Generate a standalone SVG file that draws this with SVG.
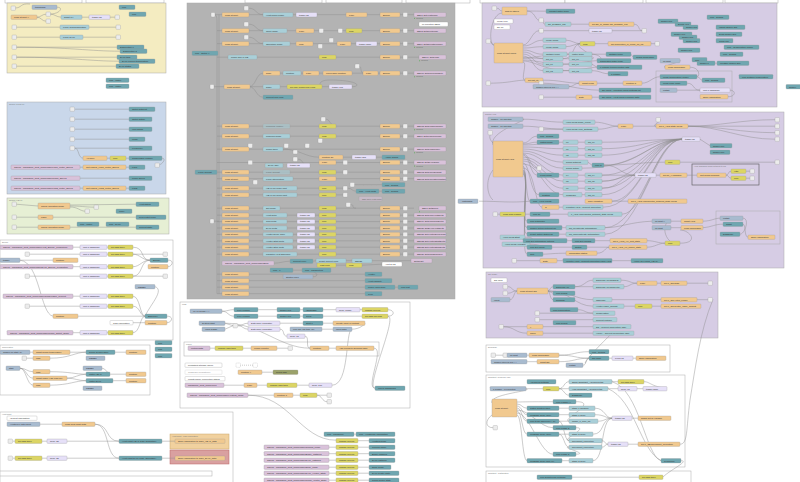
<svg xmlns="http://www.w3.org/2000/svg" width="800" height="482" viewBox="0 0 800 482">
<style>
text{font-family:"Liberation Sans",Arial,sans-serif;font-size:2.3px;fill:#333}
.fn rect,.sw rect,.ui rect,.lk rect,.tr rect,.mq rect,.in rect,.cm rect,.sq rect,.dg rect{stroke:#999;stroke-width:.3;rx:.8px}
.fn rect{fill:#f1c98f}.sw rect{fill:#dcd564}.ui rect{fill:#a9cfd8}.lk rect{fill:#6fa6b0}
.tr rect{fill:#e6e0f8}.mq rect{fill:#d9c2da}.in rect{fill:#a8bbcf}.cm rect{fill:#fff}
.sq rect{fill:#ececec}.dg rect{fill:#9ba26a}.fd{opacity:.55}
.grp rect{stroke:#aaa;stroke-width:.5}
.gt{font-size:2px;fill:#777}
.st{font-size:1.5px;fill:#666}
#wires path{fill:none;stroke:#8c8c8c;stroke-width:.45}
</style>
<rect width="800" height="482" fill="#fff"/>
<g id="groups" class="grp">
<rect x="5" y="-2" width="77" height="5" fill="#fff"/><rect x="86" y="-2" width="78" height="5" fill="#fff"/>
<rect x="245" y="-2" width="77" height="5" fill="#fff"/><rect x="326" y="-2" width="76" height="5" fill="#fff"/>
<rect x="406" y="-2" width="64" height="5" fill="#fff"/><rect x="480" y="-2" width="85" height="5" fill="#fff"/>
<rect x="565" y="-2" width="78" height="5" fill="#fff"/><rect x="646" y="-2" width="77" height="5" fill="#fff"/>
<rect x="725" y="-2" width="53" height="5" fill="#fff"/>
<rect x="7" y="3" width="159" height="70" fill="#f4ecc1"/>
<rect x="7" y="102" width="159" height="92" fill="#c9d7ea"/><text class="gt" x="9" y="105">Source (P1 DHT)</text>
<rect x="7" y="198" width="162" height="36" fill="#e6efd4"/><text class="gt" x="9" y="201">Source (HEAT)</text>
<rect x="187" y="3" width="268" height="296" fill="#b3b3b3"/>
<rect x="482" y="3" width="295" height="104" fill="#d6cce4"/>
<rect x="483" y="112" width="301" height="156" fill="#d6cce4"/><text class="gt" x="485" y="115">Control HPC</text>
<rect x="486" y="272" width="232" height="66" fill="#d6cce4"/><text class="gt" x="488" y="275">SG Ready</text>
<rect x="486" y="345" width="184" height="27" fill="#fff"/><text class="gt" x="488" y="348">Exchange</text>
<rect x="486" y="375" width="199" height="92" fill="#fff"/><text class="gt" x="488" y="378">SmartSet Advanced Vars</text>
<rect x="486" y="471" width="205" height="14" fill="#fff"/><text class="gt" x="488" y="474">SmartSet - SoftRestore</text>
<rect x="0" y="240" width="173" height="100" fill="#fff"/><text class="gt" x="2" y="243">Energy</text>
<rect x="0" y="345" width="150" height="50" fill="#fff"/><text class="gt" x="2" y="348">Temperature</text>
<rect x="0" y="412" width="233" height="72" fill="#fff"/><text class="gt" x="2" y="415">Heat chart</text>
<rect x="180" y="302" width="230" height="106" fill="#fff"/><text class="gt" x="182" y="305">Logs</text>
<rect x="184" y="342" width="195" height="14" fill="none"/><text class="gt" x="186" y="345">MQTT</text>
<rect x="656" y="71" width="76" height="31" fill="none"/>
<rect x="692" y="164" width="67" height="21" fill="none" style="stroke:#555;stroke-width:.6"/><text class="gt" x="694" y="167">HPC Changed Room setpoint to log</text>
<rect x="716" y="211" width="64" height="33" fill="none"/>
<rect x="170" y="434" width="59" height="15" fill="#f1d19e" style="stroke:#c9a96e"/><text class="gt" x="172" y="437">Heat chart - COP information</text>
<rect x="170" y="450" width="59" height="14" fill="#d9a0a0" style="stroke:#b66"/>
<rect x="0" y="471" width="212" height="5" fill="#fff"/>
</g>
<g id="wires">
<path d="M37,17.2 C41,17.2 42,14.2 46,14.2 M37,17.2 C41,17.2 42,21.2 46,21.2 M50,14.2 C55,14 56,17 61,17.2 M82,17.2 L89,17.2 M110,17.2 L115,17.2 M57,7.2 C64,7.2 60,14 50,14 M15,8 C22,8 20,3 30,4"/>
<path d="M16,27.2 L60,27.2 M89,27.2 L116,27.2 M16,37.2 L60,37.2 M83,37.2 L116,37.2 M16,47.2 L117,47.2 M16,47.2 C70,47.2 90,51.2 120,51.2 M16,57.2 L117,57.2 M16,57.2 C70,57.2 90,61.2 119,61.2 M16,66.2 L116,66.2"/>
<path d="M75,109.2 L129,109.2 M75,119.2 L129,119.2 M75,129.2 L129,129.2 M75,139.2 L129,139.2 M75,148.2 L129,148.2 M75,148.2 C79,148.2 78,158 83,158.2 M107,158.2 L110,158.2 M126,158.2 L129,158.2 M162,158.2 C167,158.2 162,165 158,165.2 M80,167.2 L83,167.2 M126,167.2 L129,167.2 M80,178.2 L129,178.2 M80,188.2 L83,188.2 M126,188.2 L129,188.2"/>
<path d="M16,204.2 L38,206 M70,205 L136,204.2 M70,206 C80,206 85,207 94,207.2 M70,207 C78,207 80,211 85,211.2 M16,217.2 L38,217.2 M53,217.2 L136,217.2 M16,227.2 L38,227.2 M70,227.2 L136,227.2"/>
<path d="M214,14.7 C217,14.7 217,18 217,24 L217,293.7 M219,14.7 L219,293.7 M214,221.2 L219,221.2 M214,14.7 L414,14.7 M249,8.2 C256,8.2 256,14.7 263,14.7 M217,30.7 L414,30.7 M249,24.2 C256,24.2 256,30.7 263,30.7 M217,43.7 L414,43.7 M249,37.2 C256,37.2 256,43.7 263,43.7 M217,57.2 L419,57.2"/>
<path d="M214,86.7 L352,86.7 M249,86.7 C256,86.7 256,73.2 263,73.2 M249,86.7 C256,86.7 256,97.2 263,97.2 M280,73.2 L414,73.2 M359,66.2 C362,66.2 360,73 363,73.2 M352,86.7 C362,86.7 358,80 330,80 C320,80 318,84 322,86.7"/>
<path d="M217,126.2 L414,126.2 M326,119.2 C330,119.2 330,126 336,126.2 M217,136.2 L414,136.2 M217,149.2 L414,149.2 M283,149.2 C300,149.2 305,157.2 319,157.2 M343,157.2 L352,157.2 M376,157.2 L382,157.2 M217,162.5 L414,162.5 M298,159.2 C304,159.2 300,165 310,165.5 M217,172.2 L414,172.2 M217,178.7 L414,178.7 M354,184.7 C360,184.7 365,184.7 382,184.7"/>
<path d="M217,188.2 L348,188.2 M348,188.2 C352,188.2 352,191.2 356,191.2 M379,191.2 L382,191.2 M217,194.9 L348,194.9 M217,208.2 L414,208.2 M350,204.7 C356,204.7 350,208 356,208.2 M217,215.2 L414,215.2 M217,221.6 L414,221.6 M217,228 L414,228 M217,234.4 L414,234.4 M217,240.8 L414,240.8 M217,247.2 L414,247.2 M217,254.2 L414,254.2"/>
<path d="M274,263.2 C280,263.2 284,261.2 290,261.2 M313,261.2 L316,260.7 M346,260.7 L352,260.7 M372,260.7 L411,260.7 M336,265.2 L346,265.2 M362,265.2 L382,264.2 M293,270.2 L302,270.2 M313,276.7 C320,276.7 318,270 302,270.2 M217,274.2 L365,274.2 M217,280.7 L365,280.7 M217,287.2 L365,287.2 M395,287.2 L398,287.2 M217,293.7 L365,293.7"/>
<path d="M497,8.2 C500,8.2 499,11 502,11 M527,11 C535,11 538,11.2 546,11.2 M527,11 C535,11 535,20 539,20.2 M543,20.2 C545,20.2 542,24.2 545,24.2 M571,24.2 L589,24.2 M634,24.2 C640,24.2 638,30.7 642,30.7 M612,30.7 L642,30.7 M543,30.7 L589,30.7 M490,41.2 C492,41.2 491,45 494,45"/>
<path d="M523,46 C533,46 533,40.2 543,40.2 M523,48 C533,48 533,46.7 543,46.7 M523,50 C533,50 533,54.2 543,54.2 M523,52 C533,52 533,58.7 543,58.7 M523,54 C533,54 533,64.2 543,64.2 M523,56 C533,56 533,70.7 543,70.7 M523,58 C535,58 545,54 569,54.2 M523,58 C535,58 545,58.7 569,58.7 M523,60 C535,60 545,64.2 569,64.2 M523,61 C535,61 545,70.7 569,70.7 M523,45 C530,45 532,30.7 539,30.7 M523,62 C528,62 520,80.2 525,80.2 M494,45 C488,45 490,14 502,13"/>
<path d="M566,40.2 C572,40.2 575,43.7 580,43.7 M566,46.7 C572,46.7 575,43.7 580,43.7 M595,43.7 L608,43.7 M651,43.7 L655,43.7 M563,58.7 C575,58.7 572,44 580,43.7 M592,58.7 C600,58.7 570,44 580,43.7 M567,54.2 L606,54.2 M592,54.2 C600,54.2 605,60.7 597,60.7 M592,64.2 L597,67.2 M592,70.7 C600,70.7 602,73.7 608,73.7 M631,54.2 L633,57.2 M563,64.2 C575,64.2 590,60.7 597,60.7 M563,70.7 C580,70.7 590,67.2 597,67.2"/>
<path d="M543,80.2 C560,80 565,83 579,83.2 M569,86.7 C573,86.7 575,83.2 579,83.2 M597,83.2 L623,83.2 M642,83.2 C650,83 652,77 660,76.7 M490,83.2 C510,83 515,80.2 525,80.2 M543,97.2 L576,97.2 M592,97.2 L599,97.2 M543,83.2 C560,83.2 580,90 599,90.2 M680,60.7 C684,60.7 660,67 665,67.2 M690,67.2 C700,67.2 700,76.7 697,76.7 M697,76.7 C700,76.7 700,80.2 702,80.2 M687,83.2 C695,83.2 692,90 700,90.2 M677,90.2 L700,90.2 M730,90.2 C736,90.2 736,96.7 728,96.7 M715,63.2 L717,63.2"/>
<path d="M523,119.2 C540,119.2 545,122 563,122.2 M523,126.2 C540,126.2 545,129 563,129.2 M523,119.2 C530,119.2 488,132 493,145 M541,129.2 L563,129.2 M595,122.2 C605,122.2 610,126.2 618,126.2 M598,129.2 C608,129.2 610,126.2 618,126.2 M633,126.2 L656,126.2 M660,119.7 C664,119.7 650,126 656,126.2 M688,126.2 C720,126.2 740,119.7 775,119.7 M688,126.2 L775,126.2 M688,126.2 C720,126.2 740,132.7 775,132.7 M688,126.2 C720,126.2 740,139.2 775,139.2 M492,132.7 C488,136 490,140 493,143"/>
<path d="M523,143 C530,143 530,136.2 537,136.2 M523,144 C530,144 530,142.2 537,142.2 M523,145 C540,145 545,142.2 563,142.2 M523,147 C540,147 545,148.7 563,148.7 M523,149 C540,149 545,155.2 563,155.2 M523,151 C540,151 545,162.2 563,162.2 M523,153 C540,153 545,168.2 563,168.2 M523,154 C530,154 530,168.2 537,168.2 M523,155 C530,155 530,175.2 537,175.2 M523,157 C540,157 545,175.2 563,175.2 M523,159 C540,159 545,181.2 563,181.2 M523,161 C540,161 545,188.2 563,188.2 M523,163 C530,163 530,194.7 539,194.7 M523,164 C540,164 545,194.7 563,194.7 M523,166 C526,166 526,201.2 530,201.2 M523,168 C535,168 535,207.2 542,207.2 M523,170 C530,170 520,221.2 527,221.2 M523,171 C530,171 520,227.7 527,227.7 M523,172 C530,172 520,234.2 527,234.2 M523,173 C530,173 520,247.2 527,247.2 M523,174 C530,174 520,254.2 527,254.2 M493,170 C485,180 487,195 493,200"/>
<path d="M578,142.2 L585,142.2 M578,148.7 L585,148.7 M578,155.2 L585,155.2 M578,175.2 L585,175.2 M578,181.2 L585,181.2 M578,188.2 L585,188.2 M582,194.7 L585,194.7 M588,162.2 L592,165.2 M602,142.2 C640,142.2 650,139.2 682,139.2 M602,148.7 C640,148.7 650,139.2 682,139.2 M602,155.2 C640,155.2 650,139.2 682,139.2 M604,165.2 C640,165 650,139.2 682,139.2 M582,168.2 C640,168.2 650,139.2 682,139.2 M602,175.2 C640,175.2 650,139.2 682,139.2 M602,181.2 C640,181.2 650,139.2 682,139.2 M602,188.2 C640,188.2 650,139.2 682,139.2 M602,194.7 C640,194.7 650,139.2 682,139.2 M612,201.2 C640,201.2 650,139.2 682,139.2 M603,207.2 C640,207.2 650,139.2 682,139.2 M622,214.2 C645,214.2 655,139.2 682,139.2 M605,227.7 C640,227.7 655,139.2 682,139.2 M605,234.2 C640,234.2 655,139.2 682,139.2"/>
<path d="M602,175.2 L635,175.2 M602,181.2 C620,181 620,175.2 635,175.2 M604,165.2 C620,165 620,175 635,175.2 M602,188.2 C620,188.2 620,175.2 635,175.2 M656,175.2 L660,175.2 M687,175.2 L697,175.2 M726,175.2 C729,175 728,171 731,171.2 M726,175.2 C729,175 728,178 731,178.2 M746,171.2 L750,171.2 M746,178.2 L750,178.2 M680,162.2 L775,162.2 M604,165.2 C630,165 640,162.2 665,162.2 M612,201.2 L628,201.2 M700,139.2 L710,145.7"/>
<path d="M497,214.2 L500,214.2 M525,214.2 L530,214.2 M559,207.2 L563,207.2 M550,214.2 L568,214.2 M562,227.7 L566,227.7 M559,234.2 L566,234.2 M525,237.2 C535,237.2 535,240.7 523,240.7 M567,240.7 L572,240.7 M595,240.7 L610,240.7 M587,247.2 L609,247.2 M647,240.7 C655,240.7 658,243.2 665,243.2 M647,247.2 C655,247.2 658,243.2 665,243.2 M680,243.2 C700,243.2 690,230 680,230 M552,247.2 L572,247.2 M543,254.2 C550,254 555,253.2 566,253.2 M597,253.2 C605,253.2 605,247.2 609,247.2 M530,244.2 C540,244.2 540,247 552,247.2"/>
<path d="M516,260.7 L540,260.7 M557,260.7 L563,260.7 M612,260.7 L631,260.7 M605,227.7 C620,227.7 630,222 652,221.2 M671,221.2 L681,221.2 M671,227.7 L681,227.7 M703,221.2 C712,221 715,218 720,218.2 M703,227.7 C712,227 715,224 723,224.2 M743,224.2 C746,224 744,237 748,237.2 M743,218.2 C750,218.2 745,234 740,234.2 M479,201.2 C500,201.2 510,203 530,201.2 M670,220 C660,225 665,245 680,245"/>
<path d="M508,286.7 C512,286.7 512,291 517,291 M508,293.2 C512,293.2 512,291 517,291 M510,299.7 C514,299.7 514,291 517,291 M548,291 C550,291 550,286.7 553,286.7 M548,291 L553,293.2 M548,291 C550,291 550,299.7 553,299.7 M575,286.7 C585,286.7 585,280.2 593,280.2 M575,286.7 L593,286.7 M621,280.2 C630,280.2 630,283.2 637,283.2 M624,286.7 C630,286.7 630,283.2 637,283.2 M657,283.2 L661,283.2 M687,283.2 L708,283.2 M548,291 C570,291 575,299.7 593,299.7 M548,291 C570,291 575,306.2 593,306.2 M612,299.7 L661,299.7 M624,306.2 L635,306.2 M652,306.2 L661,306.2 M697,299.7 L708,299.7 M539,313.2 L593,313.2 M539,319.7 L593,319.7 M503,326.7 L527,326.7 M543,326.7 L593,326.7 M503,326.7 C515,326.7 515,333.2 527,333.2 M543,333.2 L593,333.2 M578,309.7 C585,309.7 585,313.2 593,313.2"/>
<path d="M495,355.2 L503,355.2 M527,355.2 L529,355.2 M559,355.2 C575,355.2 575,358.2 589,358.2 M527,361.7 L537,361.7 M559,361.7 C575,361.7 575,358.2 589,358.2 M583,365.2 C587,365.2 585,358.2 589,358.2 M609,358.2 L612,358.2 M633,358.2 L636,358.2 M559,355.2 C575,355 575,351.7 589,351.7 M612,333.2 C600,345 590,355 585,363"/>
<path d="M526,388.7 L543,388.7 M559,388.7 C564,388.7 564,381.7 569,381.7 M559,388.7 L569,388.7 M559,388.7 C564,388.7 564,395.2 569,395.2 M612,381.7 L618,381.7 M608,388.7 L618,388.7 M637,388.7 L643,388.7 M644,381.7 C650,381.7 650,386 667,388.7 M526,388.7 C535,391 488,394 492,403"/>
<path d="M517,402 C522,402 522,401.7 553,401.7 M517,404 C522,404 522,408.2 527,408.2 M517,406 C522,406 522,414.7 527,414.7 M517,408 C522,408 522,421.2 527,421.2 M517,410 C530,410 540,427.7 553,427.7 M517,411 C522,411 522,434.2 527,434.2 M517,413 C530,413 540,454.2 553,454.2 M517,415 C522,415 522,460.7 527,460.7 M493,427.7 C485,427.7 485,420 492,415 M576,401.7 C600,401.7 560,420 569,421.2 M576,427.7 C590,427.7 560,440 569,440.7 M576,454.2 C590,454 560,447 569,447.2"/>
<path d="M559,408.2 L569,408.2 M559,414.7 L569,414.7 M559,421.2 L569,421.2 M559,434.2 L569,434.2 M562,460.7 L569,460.7 M559,421.2 C564,421.2 564,440.7 569,440.7 M559,434.2 C564,434 564,447 569,447.2 M595,408.2 C605,408.2 605,418.2 612,418.2 M595,414.7 C605,414.7 605,418.2 612,418.2 M598,421.2 C605,421.2 605,418.2 612,418.2 M593,434.2 C605,434 600,420 612,418.2 M593,460.7 C605,460 600,420 612,418.2 M632,418.2 L638,418.2 M602,440.7 C605,440.7 605,444.2 608,444.2 M602,447.2 C605,447.2 605,444.2 608,444.2 M628,444.2 L638,444.2"/>
<path d="M612,381.7 C640,390 645,455 661,460.7 M608,388.7 C635,400 640,450 661,460.7 M681,460.7 C690,460.7 670,470 663,477 M713,299.5 C700,330 695,370 690,400 C686,430 688,444 680,444.2 M572,477.2 C600,477.2 620,477.2 639,477.2"/>
<path d="M73,247.2 L108,247.2 M29,254.2 L108,254.2 M73,266.7 L108,266.7 M29,276.2 L108,276.2 M73,296.2 L108,296.2 M29,306.2 L108,306.2 M73,332.7 L108,332.7 M133,247.2 C145,247.2 140,260.2 150,260.2 M133,254.2 C140,254.2 142,260.2 150,260.2 M133,266.7 C140,266.7 142,260.2 150,260.2 M133,276.2 C143,276.2 140,260.2 150,260.2 M133,254.2 L163,254.2 M133,276.2 L163,276.2 M20,260.2 L53,260.2 M20,260.2 C40,262 40,314 53,316.2 M168,260.2 C175,260 172,266.7 168,266.7"/>
<path d="M133,296.2 C140,296.2 140,316.2 145,316.2 M133,306.2 C140,306.2 140,316.2 145,316.2 M133,332.7 C140,332.7 140,316.2 145,316.2 M78,316.2 L145,316.2 M155,286.7 C165,290 150,305 145,316.2 M167,316.2 C174,316 172,322.7 167,322.7 M133,322.7 L145,322.7"/>
<path d="M30,352.2 L33,352.2 M70,352.2 L86,352.2 M50,358.2 C70,358.2 75,352.2 86,352.2 M26,358.2 L33,358.2 M115,352.2 L126,352.2 M20,368.2 C26,368.2 27,371.7 33,371.7 M20,368.2 C26,368.2 27,378.2 33,378.2 M20,368.2 C26,368.2 27,385.2 33,385.2 M50,371.7 C70,371.7 75,374.2 86,374.2 M67,378.2 C75,378.2 78,374.2 86,374.2 M67,378.2 C75,378.2 78,380.7 86,380.7 M50,385.2 C70,385 75,380.7 86,380.7 M110,374.2 L126,374.2 M113,380.7 L126,380.7 M102,368.2 C106,368.2 106,373 110,373"/>
<path d="M40,424.2 L62,424.2 M95,424.2 C110,424.2 105,441.2 119,441.2 M95,424.2 C110,424.2 105,458.2 119,458.2 M13,441.2 L15,441.2 M42,441.2 L47,441.2 M67,441.2 L119,441.2 M162,441.2 L175,441.2 M13,458.2 L15,458.2 M42,458.2 L47,458.2 M67,458.2 L119,458.2 M162,458.2 L175,458.2"/>
<path d="M222,311.2 C228,311.2 228,309.7 234,309.7 M222,311.2 C228,311.2 228,316.2 234,316.2 M258,309.7 L277,309.7 M258,316.2 L277,316.2 M300,309.7 L303,309.7 M300,316.2 L303,316.2 M323,309.7 L336,309.7 M360,309.7 L362,309.7 M323,316.2 L362,316.2 M388,309.7 C395,310 395,316 388,316.2 M225,323.2 L233,325.7 M225,329.2 L233,325.7 M238,325.7 C243,325.7 243,323.2 248,323.2 M238,325.7 C243,325.7 243,329.2 248,329.2 M280,323.2 L303,323.2 M323,323.2 L333,323.2 M280,329.2 C285,329.2 282,336.2 287,336.2 M322,329.2 L333,329.2 M352,329.2 C360,329.2 365,324 365,323.2"/>
<path d="M225,323.2 C260,323.2 280,348.2 310,348.2 M210,348.2 L215,348.2 M243,348.2 L251,348.2 M277,348.2 L288,348.2 M329,348.2 L336,348.2 M305,336.2 C310,336.2 305,348.2 310,348.2 M388,316.2 C398,316.2 365,388.2 375,388.2 M374,348.2 C385,348.2 365,388 375,388.2 M262,372.2 L273,372.2 M224,385.2 L244,385.2 M257,385.2 L267,385.2 M297,385.2 L309,385.2 M332,385.2 C350,385.2 345,330 352,329.2 M248,395.2 L274,395.2 M293,395.2 L300,395.2 M317,395.2 L327,395.2 M317,395.2 C322,395.2 322,401.7 327,401.7 M248,395.2 C290,395.2 300,440.2 336,440.2"/>
<path d="M354,434.2 L356,434.2 M358,440.7 L369,440.7 M329,447.2 L369,447.2 M329,453.7 L369,453.7 M329,460.2 L369,460.2 M329,467.2 L369,467.2 M329,473.2 L369,473.2 M329,480.2 L369,480.2"/>
<path d="M240,365.2 L253,365.2" style="stroke-dasharray:1 1"/>
</g>
<g id="y1" class="sq"><rect x="11" y="6" width="4.5" height="4.4"/></g>
<g id="y2" class="in"><rect x="32" y="5" width="25" height="4.4"/><text x="35" y="8">timestamp</text></g>
<g id="y3" class="lk"><rect x="119" y="5" width="16" height="4.4"/><text x="122" y="8">Link</text></g>
<g id="y4" class="lk"><rect x="129" y="12" width="17" height="4.4"/><text x="132" y="15">Link</text></g>
<g id="y5" class="fn"><rect x="11" y="15" width="26" height="4.4"/><text x="14" y="18">Load at boot X</text></g>
<g id="y6" class="sq"><rect x="46" y="12" width="4.5" height="4.4"/></g>
<g id="y7" class="sq"><rect x="46" y="19" width="4.5" height="4.4"/></g>
<g id="y8" class="ui"><rect x="61" y="15" width="21" height="4.4"/><text x="64" y="18">smart pH</text></g>
<g id="y9" class="tr"><rect x="89" y="15" width="21" height="4.4"/><text x="92" y="18">trigger 5s</text></g>
<g id="y10" class="sq"><rect x="115" y="15" width="4.5" height="4.4"/></g>
<g id="y11" class="sq"><rect x="12" y="25" width="4.5" height="4.4"/></g>
<g id="y12" class="ui"><rect x="60" y="25" width="29" height="4.4"/><text x="63" y="28">Force dehumidification</text></g>
<g id="y13" class="sq"><rect x="116" y="25" width="4.5" height="4.4"/></g>
<g id="y14" class="sq"><rect x="12" y="35" width="4.5" height="4.4"/></g>
<g id="y15" class="ui"><rect x="60" y="35" width="23" height="4.4"/><text x="63" y="38">Force DHW</text></g>
<g id="y16" class="sq"><rect x="116" y="35" width="4.5" height="4.4"/></g>
<g id="y17" class="sq"><rect x="12" y="45" width="4.5" height="4.4"/></g>
<g id="y18" class="lk"><rect x="117" y="45" width="27" height="4.4"/><text x="120" y="48">Disinfection 1</text></g>
<g id="y19" class="lk"><rect x="120" y="49" width="27" height="4.4"/><text x="123" y="52">Disinfection 2</text></g>
<g id="y20" class="sq"><rect x="12" y="55" width="4.5" height="4.4"/></g>
<g id="y21" class="lk"><rect x="117" y="55" width="20" height="4.4"/><text x="120" y="58">DHW tank</text></g>
<g id="y22" class="lk"><rect x="119" y="59" width="36" height="4.4"/><text x="122" y="62">DHW current temperature</text></g>
<g id="y23" class="sq"><rect x="12" y="64" width="4.5" height="4.4"/></g>
<g id="y24" class="lk"><rect x="116" y="64" width="23" height="4.4"/><text x="119" y="67">DHW status</text></g>
<g id="y25" class="lk"><rect x="106" y="78" width="23" height="4.4"/><text x="109" y="81">Link - Water</text></g>
<g id="y26" class="lk"><rect x="106" y="84" width="23" height="4.4"/><text x="109" y="87">Link - Water</text></g>
<g id="b1" class="sq"><rect x="70" y="107" width="4.5" height="4.4"/></g>
<g id="b2" class="lk"><rect x="129" y="107" width="26" height="4.4"/><text x="132" y="110">Outlet setpoint</text></g>
<g id="b3" class="sq"><rect x="70" y="117" width="4.5" height="4.4"/></g>
<g id="b4" class="lk"><rect x="129" y="117" width="23" height="4.4"/><text x="132" y="120">Outlet actual</text></g>
<g id="b5" class="sq"><rect x="70" y="127" width="4.5" height="4.4"/></g>
<g id="b6" class="lk"><rect x="129" y="127" width="23" height="4.4"/><text x="132" y="130">Inlet actual</text></g>
<g id="b7" class="sq"><rect x="70" y="137" width="4.5" height="4.4"/></g>
<g id="b8" class="lk"><rect x="129" y="137" width="16" height="4.4"/><text x="132" y="140">Mode</text></g>
<g id="b9" class="sq"><rect x="70" y="146" width="4.5" height="4.4"/></g>
<g id="b10" class="lk"><rect x="129" y="146" width="23" height="4.4"/><text x="132" y="149">Frequency</text></g>
<g id="b11" class="fn"><rect x="83" y="156" width="24" height="4.4"/><text x="86" y="159">Anyfunc</text></g>
<g id="b12" class="sw"><rect x="110" y="156" width="16" height="4.4"/><text x="113" y="159">Max</text></g>
<g id="b13" class="lk"><rect x="129" y="156" width="33" height="4.4"/><text x="132" y="159">Compressor runtime</text></g>
<g id="b14" class="sq"><rect x="155" y="163" width="4.5" height="4.4"/></g>
<g id="b15" class="mq"><rect x="11" y="165" width="69" height="4.4"/><text x="14" y="168">TOPIC - panasonic_heat_pump/main/Fan1_Motor_Speed</text></g>
<g id="b16" class="fn"><rect x="83" y="165" width="43" height="4.4"/><text x="86" y="168">Get TOPIC_Fan1_Motor_Speed</text></g>
<g id="b17" class="lk"><rect x="129" y="165" width="16" height="4.4"/><text x="132" y="168">Fan1</text></g>
<g id="b18" class="mq"><rect x="11" y="176" width="69" height="4.4"/><text x="14" y="179">TOPIC - panasonic_heat_pump/main/Pump_Speed</text></g>
<g id="b19" class="lk"><rect x="129" y="176" width="23" height="4.4"/><text x="132" y="179">Pump speed</text></g>
<g id="b20" class="mq"><rect x="11" y="186" width="69" height="4.4"/><text x="14" y="189">TOPIC - panasonic_heat_pump/main/Fan2_Motor_Speed</text></g>
<g id="b21" class="fn"><rect x="83" y="186" width="43" height="4.4"/><text x="86" y="189">Get TOPIC_Fan2_Motor_Speed</text></g>
<g id="b22" class="lk"><rect x="129" y="186" width="16" height="4.4"/><text x="132" y="189">Fan2</text></g>
<g id="gr1" class="sq"><rect x="12" y="202" width="4.5" height="4.4"/></g>
<g id="gr2" class="fn"><rect x="38" y="203" width="32" height="6"/><text x="41" y="206.8">Check operation mode</text></g>
<g id="gr3" class="lk"><rect x="136" y="202" width="23" height="4.4"/><text x="139" y="205">Heat status</text></g>
<g id="gr4" class="sq"><rect x="94" y="205" width="4.5" height="4.4"/></g>
<g id="gr5" class="sq"><rect x="85" y="209" width="4.5" height="4.4"/></g>
<g id="gr6" class="lk"><rect x="116" y="209" width="16" height="4.4"/><text x="119" y="212">Linkx</text></g>
<g id="gr7" class="sq"><rect x="12" y="215" width="4.5" height="4.4"/></g>
<g id="gr8" class="fn"><rect x="38" y="215" width="15" height="4.4"/><text x="41" y="218">Label</text></g>
<g id="gr9" class="lk"><rect x="136" y="215" width="30" height="4.4"/><text x="139" y="218">Real outlet temp</text></g>
<g id="gr10" class="sq"><rect x="12" y="225" width="4.5" height="4.4"/></g>
<g id="gr11" class="fn"><rect x="38" y="225" width="32" height="4.4"/><text x="41" y="228">Check operation mode</text></g>
<g id="gr12" class="lk"><rect x="77" y="222" width="22" height="4.4"/><text x="80" y="225">Link - Water</text></g>
<g id="gr13" class="lk"><rect x="106" y="222" width="23" height="4.4"/><text x="109" y="225">Link - DHW</text></g>
<g id="gr14" class="lk"><rect x="136" y="225" width="23" height="4.4"/><text x="139" y="228">Current state</text></g>
<g id="k0" class="lk"><rect x="192" y="51" width="26" height="4.4"/><text x="195" y="54">Link - Setup X</text></g>
<g id="k1" class="sq"><rect x="211" y="12.5" width="4" height="4.4"/></g>
<g id="k2" class="fn"><rect x="222" y="12.5" width="27" height="4.4"/><text x="225" y="15.5">Load at boot</text></g>
<g id="k3" class="sq"><rect x="244" y="6" width="4.5" height="4.4"/></g>
<g id="k4" class="ui"><rect x="263" y="12.5" width="30" height="4.4"/><text x="266" y="15.5">Heat pump power</text></g>
<g id="k5" class="tr"><rect x="296" y="12.5" width="21" height="4.4"/><text x="299" y="15.5">trigger 5s</text></g>
<g id="k6" class="fn"><rect x="346" y="12.5" width="21" height="4.4"/><text x="349" y="15.5">Filter</text></g>
<g id="k7" class="fn"><rect x="380" y="12.5" width="20" height="4.4"/><text x="383" y="15.5">Block?</text></g>
<g id="k8" class="sq"><rect x="403" y="12.5" width="4.5" height="4.4"/></g>
<g id="k9" class="mq"><rect x="414" y="12.5" width="32" height="4.4"/><text x="417" y="15.5">SET1 SetHeatpump</text><rect x="414" y="17.8" width="1" height="1" style="fill:#5a5;stroke:none"/><text class="st" x="416" y="18.8">connected</text></g>
<g id="k10" class="sq"><rect x="244" y="22" width="4.5" height="4.4"/></g>
<g id="k11" class="fn"><rect x="222" y="28.5" width="27" height="4.4"/><text x="225" y="31.5">Load at boot</text></g>
<g id="k12" class="ui"><rect x="263" y="28.5" width="24" height="4.4"/><text x="266" y="31.5">Quiet mode</text></g>
<g id="k13" class="fn"><rect x="296" y="28.5" width="18" height="4.4"/><text x="299" y="31.5">Filter</text></g>
<g id="k14" class="sq"><rect x="319" y="28.5" width="4.5" height="4.4"/></g>
<g id="k15" class="sq"><rect x="338" y="28.5" width="4.5" height="4.4"/></g>
<g id="k16" class="sw"><rect x="346" y="28.5" width="16" height="4.4"/><text x="349" y="31.5">Map</text></g>
<g id="k17" class="fn"><rect x="380" y="28.5" width="20" height="4.4"/><text x="383" y="31.5">Block?</text></g>
<g id="k18" class="sq"><rect x="403" y="28.5" width="4.5" height="4.4"/></g>
<g id="k19" class="mq"><rect x="414" y="28.5" width="32" height="4.4"/><text x="417" y="31.5">SET3 SetQuietMode</text></g>
<g id="k20" class="cm"><rect x="419" y="22" width="29" height="4.4"/><text x="422" y="25">fix Function SET1</text></g>
<g id="k21" class="sq"><rect x="244" y="35" width="4.5" height="4.4"/></g>
<g id="k22" class="fn"><rect x="222" y="41.5" width="27" height="4.4"/><text x="225" y="44.5">Load at boot</text></g>
<g id="k23" class="ui"><rect x="263" y="41.5" width="27" height="4.4"/><text x="266" y="44.5">Operation mode</text></g>
<g id="k24" class="fn"><rect x="296" y="41.5" width="17" height="4.4"/><text x="299" y="44.5">Map</text></g>
<g id="k25" class="sq"><rect x="318" y="44" width="4.5" height="4.4"/></g>
<g id="k26" class="sq"><rect x="329" y="38" width="4.5" height="4.4"/></g>
<g id="k27" class="fn"><rect x="337" y="41.5" width="14" height="4.4"/><text x="340" y="44.5">Filter</text></g>
<g id="k28" class="tr"><rect x="356" y="41.5" width="21" height="4.4"/><text x="359" y="44.5">trigger 5min</text></g>
<g id="k29" class="fn"><rect x="380" y="41.5" width="20" height="4.4"/><text x="383" y="44.5">Block?</text></g>
<g id="k30" class="sq"><rect x="403" y="41.5" width="4.5" height="4.4"/></g>
<g id="k31" class="mq"><rect x="414" y="41.5" width="32" height="4.4"/><text x="417" y="44.5">SET9 SetOperationMode</text><rect x="414" y="46.8" width="1" height="1" style="fill:#5a5;stroke:none"/><text class="st" x="416" y="47.8">connected</text></g>
<g id="k32" class="ui"><rect x="228" y="55" width="29" height="4.4"/><text x="231" y="58">Pump Run TAPE</text></g>
<g id="k33" class="sw"><rect x="319" y="55" width="17" height="4.4"/><text x="322" y="58">Map</text></g>
<g id="k34" class="fn"><rect x="380" y="55" width="20" height="4.4"/><text x="383" y="58">Block?</text></g>
<g id="k35" class="sq"><rect x="403" y="55" width="4.5" height="4.4"/></g>
<g id="k36" class="mq"><rect x="419" y="55" width="27" height="4.4"/><text x="422" y="58">SET14 SetPump</text><rect x="419" y="60.3" width="1" height="1" style="fill:#5a5;stroke:none"/><text class="st" x="421" y="61.3">connected</text></g>
<g id="k37" class="sq"><rect x="355" y="64" width="4.5" height="4.4"/></g>
<g id="k38" class="fn"><rect x="263" y="71" width="17" height="4.4"/><text x="266" y="74">scale</text></g>
<g id="k39" class="ui"><rect x="283" y="71" width="18" height="4.4"/><text x="286" y="74">function</text></g>
<g id="k40" class="fn"><rect x="303" y="71" width="16" height="4.4"/><text x="306" y="74">Filter</text></g>
<g id="k41" class="fn"><rect x="323" y="71" width="29" height="4.4"/><text x="326" y="74">conversion function</text></g>
<g id="k42" class="fn"><rect x="363" y="71" width="15" height="4.4"/><text x="366" y="74">Filter</text></g>
<g id="k43" class="fn"><rect x="380" y="71" width="20" height="4.4"/><text x="383" y="74">Block?</text></g>
<g id="k44" class="sq"><rect x="403" y="71" width="4.5" height="4.4"/></g>
<g id="k45" class="mq"><rect x="414" y="71" width="32" height="4.4"/><text x="417" y="74">SET16 SetMaxPumpDuty</text><rect x="414" y="76.3" width="1" height="1" style="fill:#5a5;stroke:none"/><text class="st" x="416" y="77.3">connected</text></g>
<g id="k46" class="sq"><rect x="210" y="84.5" width="4" height="4.4"/></g>
<g id="k47" class="fn"><rect x="224" y="84.5" width="26" height="4.4"/><text x="227" y="87.5">Load at boot</text></g>
<g id="k48" class="ui"><rect x="263" y="84.5" width="17" height="4.4"/><text x="266" y="87.5">slider</text></g>
<g id="k49" class="sw"><rect x="287" y="84.5" width="35" height="4.4"/><text x="290" y="87.5">set Max Pump Max Flow</text></g>
<g id="k50" class="tr"><rect x="329" y="84.5" width="23" height="4.4"/><text x="332" y="87.5">trigger 10s</text></g>
<g id="k51" class="lk"><rect x="263" y="95" width="30" height="4.4"/><text x="266" y="98">Current max flow</text></g>
<g id="k52" class="sq"><rect x="321" y="117" width="4.5" height="4.4"/></g>
<g id="k53" class="fn"><rect x="222" y="124" width="27" height="4.4"/><text x="225" y="127">Load at boot</text></g>
<g id="k54" class="ui fd"><rect x="263" y="124" width="27" height="4.4"/><text x="266" y="127">Pumping (Water)</text></g>
<g id="k55" class="sw"><rect x="319" y="124" width="17" height="4.4"/><text x="322" y="127">Map</text></g>
<g id="k56" class="fn"><rect x="380" y="124" width="20" height="4.4"/><text x="383" y="127">Block?</text></g>
<g id="k57" class="sq"><rect x="403" y="124" width="4.5" height="4.4"/></g>
<g id="k58" class="mq"><rect x="414" y="124" width="32" height="4.4"/><text x="417" y="127">SET15 SetPumpingMode</text><rect x="414" y="129.3" width="1" height="1" style="fill:#5a5;stroke:none"/><text class="st" x="416" y="130.3">connected</text></g>
<g id="k59" class="fn"><rect x="222" y="134" width="27" height="4.4"/><text x="225" y="137">Load at boot</text></g>
<g id="k60" class="ui"><rect x="263" y="134" width="27" height="4.4"/><text x="266" y="137">Powerful mode</text></g>
<g id="k61" class="sw"><rect x="319" y="134" width="17" height="4.4"/><text x="322" y="137">Map</text></g>
<g id="k62" class="sq"><rect x="318" y="138.5" width="4.5" height="4.4"/></g>
<g id="k63" class="fn"><rect x="380" y="134" width="20" height="4.4"/><text x="383" y="137">Block?</text></g>
<g id="k64" class="sq"><rect x="403" y="134" width="4.5" height="4.4"/></g>
<g id="k65" class="mq"><rect x="414" y="134" width="32" height="4.4"/><text x="417" y="137">SET6 SetPowerfulMode</text></g>
<g id="k66" class="sq"><rect x="248" y="143.5" width="4.5" height="4.4"/></g>
<g id="k67" class="fn"><rect x="222" y="147" width="27" height="4.4"/><text x="225" y="150">Load at boot</text></g>
<g id="k68" class="ui"><rect x="263" y="147" width="20" height="4.4"/><text x="266" y="150">Pump timer</text></g>
<g id="k69" class="sq"><rect x="284" y="143.5" width="4.5" height="4.4"/></g>
<g id="k70" class="sq"><rect x="305" y="143.5" width="4.5" height="4.4"/></g>
<g id="k71" class="fn"><rect x="380" y="147" width="20" height="4.4"/><text x="383" y="150">Block?</text></g>
<g id="k72" class="sq"><rect x="403" y="147" width="4.5" height="4.4"/></g>
<g id="k73" class="mq"><rect x="414" y="147" width="32" height="4.4"/><text x="417" y="150">SET10 SetPumpTimer</text><rect x="414" y="152.3" width="1" height="1" style="fill:#5a5;stroke:none"/><text class="st" x="416" y="153.3">connected</text></g>
<g id="k74" class="sq"><rect x="293" y="150" width="4.5" height="4"/></g>
<g id="k75" class="fn"><rect x="319" y="155" width="24" height="4.4"/><text x="322" y="158">function 27</text></g>
<g id="k76" class="tr"><rect x="352" y="155" width="24" height="4.4"/><text x="355" y="158">trigger 30s</text></g>
<g id="k77" class="lk"><rect x="382" y="155" width="23" height="4.4"/><text x="385" y="158">Alarm debug</text></g>
<g id="k78" class="sq"><rect x="248" y="160.3" width="4.5" height="4.4"/></g>
<g id="k79" class="ui"><rect x="265" y="163.3" width="18" height="4.4"/><text x="268" y="166.3">DHW (SP)</text></g>
<g id="k80" class="tr"><rect x="287" y="163.3" width="23" height="4.4"/><text x="290" y="166.3">trigger 5s</text></g>
<g id="k81" class="sq"><rect x="293" y="157" width="4.5" height="4.4"/></g>
<g id="k82" class="fn"><rect x="319" y="160.3" width="17" height="4.4"/><text x="322" y="163.3">Filter</text></g>
<g id="k83" class="sq"><rect x="343" y="160.3" width="4.5" height="4.4"/></g>
<g id="k84" class="fn"><rect x="380" y="160.3" width="20" height="4.4"/><text x="383" y="163.3">Block?</text></g>
<g id="k85" class="sq"><rect x="403" y="160.3" width="4.5" height="4.4"/></g>
<g id="k86" class="mq"><rect x="414" y="160.3" width="32" height="4.4"/><text x="417" y="163.3">SET11 SetDHWTemp</text><rect x="414" y="165.6" width="1" height="1" style="fill:#5a5;stroke:none"/><text class="st" x="416" y="166.6">connected</text></g>
<g id="k87" class="lk"><rect x="195" y="170" width="22" height="4.4"/><text x="198" y="173">Force defrost</text></g>
<g id="k88" class="fn"><rect x="222" y="170" width="27" height="4.4"/><text x="225" y="173">Load at boot</text></g>
<g id="k89" class="ui fd"><rect x="263" y="170" width="27" height="4.4"/><text x="266" y="173">Force defrost</text></g>
<g id="k90" class="sw"><rect x="319" y="170" width="17" height="4.4"/><text x="322" y="173">Map</text></g>
<g id="k91" class="sq"><rect x="343" y="170" width="4.5" height="4.4"/></g>
<g id="k92" class="fn"><rect x="380" y="170" width="20" height="4.4"/><text x="383" y="173">Block?</text></g>
<g id="k93" class="sq"><rect x="403" y="170" width="4.5" height="4.4"/></g>
<g id="k94" class="mq"><rect x="414" y="170" width="32" height="4.4"/><text x="417" y="173">SET12 SetForceDefrost</text></g>
<g id="k95" class="fn"><rect x="222" y="176.5" width="27" height="4.4"/><text x="225" y="179.5">Load at boot</text></g>
<g id="k96" class="sq"><rect x="253" y="180" width="4.5" height="4.4"/></g>
<g id="k97" class="ui"><rect x="263" y="176.5" width="30" height="4.4"/><text x="266" y="179.5">Force sterilization</text></g>
<g id="k98" class="fn"><rect x="319" y="176.5" width="17" height="4.4"/><text x="322" y="179.5">Filter</text></g>
<g id="k99" class="sq"><rect x="350" y="182.5" width="4.5" height="4.4"/></g>
<g id="k100" class="fn"><rect x="380" y="176.5" width="20" height="4.4"/><text x="383" y="179.5">Block?</text></g>
<g id="k101" class="sq"><rect x="403" y="176.5" width="4.5" height="4.4"/></g>
<g id="k102" class="mq"><rect x="414" y="176.5" width="32" height="4.4"/><text x="417" y="179.5">SET13 SetForceSterilization</text></g>
<g id="k103" class="lk"><rect x="382" y="182.5" width="23" height="4.4"/><text x="385" y="185.5">Link - Debug</text></g>
<g id="k104" class="fn"><rect x="222" y="186" width="27" height="4.4"/><text x="225" y="189">Load at boot</text></g>
<g id="k105" class="ui"><rect x="263" y="186" width="34" height="4.4"/><text x="266" y="189">HEAT UP lower limit</text></g>
<g id="k106" class="sw"><rect x="319" y="186" width="17" height="4.4"/><text x="322" y="189">Max</text></g>
<g id="k107" class="sq"><rect x="343" y="186" width="4.5" height="4.4"/></g>
<g id="k108" class="lk"><rect x="356" y="189" width="23" height="4.4"/><text x="359" y="192">Link - Heat limits</text></g>
<g id="k109" class="lk"><rect x="382" y="189" width="23" height="4.4"/><text x="385" y="192">Link - Debug</text></g>
<g id="k110" class="fn"><rect x="222" y="192.7" width="27" height="4.4"/><text x="225" y="195.7">Load at boot</text></g>
<g id="k111" class="ui"><rect x="263" y="192.7" width="34" height="4.4"/><text x="266" y="195.7">HEAT UP upper limit</text></g>
<g id="k112" class="sw"><rect x="319" y="192.7" width="17" height="4.4"/><text x="322" y="195.7">Max</text></g>
<g id="k113" class="sq"><rect x="343" y="192.7" width="4.5" height="4.4"/></g>
<g id="k114" class="mq fd"><rect x="359" y="196.5" width="23" height="4.4"/><text x="362" y="199.5">SET SetHeatLimits</text></g>
<g id="k115" class="sq"><rect x="346" y="202.5" width="4.5" height="4.4"/></g>
<g id="k116" class="fn"><rect x="222" y="206" width="27" height="4.4"/><text x="225" y="209">Load at boot</text></g>
<g id="k117" class="ui"><rect x="263" y="206" width="17" height="4.4"/><text x="266" y="209">Set mode</text></g>
<g id="k118" class="sw"><rect x="319" y="206" width="17" height="4.4"/><text x="322" y="209">Map</text></g>
<g id="k119" class="fn"><rect x="380" y="206" width="20" height="4.4"/><text x="383" y="209">Block?</text></g>
<g id="k120" class="sq"><rect x="403" y="206" width="4.5" height="4.4"/></g>
<g id="k121" class="mq"><rect x="419" y="206" width="27" height="4.4"/><text x="422" y="209">SET7 SetZone1</text><rect x="419" y="211.3" width="1" height="1" style="fill:#5a5;stroke:none"/></g>
<g id="k122" class="sq"><rect x="210" y="219" width="4" height="4.4"/></g>
<g id="k123" class="fn"><rect x="222" y="213" width="27" height="4.4"/><text x="225" y="216">Load at boot</text></g>
<g id="k124" class="ui"><rect x="263" y="213" width="24" height="4.4"/><text x="266" y="216">Heat delta</text></g>
<g id="k125" class="tr"><rect x="297" y="213" width="18" height="4.4"/><text x="300" y="216">trigger 5s</text></g>
<g id="k126" class="sw"><rect x="319" y="213" width="17" height="4.4"/><text x="322" y="216">Max</text></g>
<g id="k127" class="fn"><rect x="380" y="213" width="20" height="4.4"/><text x="383" y="216">Block?</text></g>
<g id="k128" class="sq"><rect x="403" y="213" width="4.5" height="4.4"/></g>
<g id="k129" class="mq"><rect x="414" y="213" width="32" height="4.4"/><text x="417" y="216">SET18 SetFloorHeatDelta</text></g>
<g id="k130" class="fn"><rect x="222" y="219.4" width="27" height="4.4"/><text x="225" y="222.4">Load at boot</text></g>
<g id="k131" class="ui"><rect x="263" y="219.4" width="24" height="4.4"/><text x="266" y="222.4">Cool delta</text></g>
<g id="k132" class="tr"><rect x="297" y="219.4" width="18" height="4.4"/><text x="300" y="222.4">trigger 5s</text></g>
<g id="k133" class="sw"><rect x="319" y="219.4" width="17" height="4.4"/><text x="322" y="222.4">Max</text></g>
<g id="k134" class="fn"><rect x="380" y="219.4" width="20" height="4.4"/><text x="383" y="222.4">Block?</text></g>
<g id="k135" class="sq"><rect x="403" y="219.4" width="4.5" height="4.4"/></g>
<g id="k136" class="mq"><rect x="414" y="219.4" width="32" height="4.4"/><text x="417" y="222.4">SET19 SetFloorCoolDelta</text></g>
<g id="k137" class="fn"><rect x="222" y="225.8" width="27" height="4.4"/><text x="225" y="228.8">Load at boot</text></g>
<g id="k138" class="ui"><rect x="263" y="225.8" width="24" height="4.4"/><text x="266" y="228.8">DHW delta</text></g>
<g id="k139" class="tr"><rect x="297" y="225.8" width="18" height="4.4"/><text x="300" y="228.8">trigger 5s</text></g>
<g id="k140" class="sw"><rect x="319" y="225.8" width="17" height="4.4"/><text x="322" y="228.8">Max</text></g>
<g id="k141" class="fn"><rect x="380" y="225.8" width="20" height="4.4"/><text x="383" y="228.8">Block?</text></g>
<g id="k142" class="sq"><rect x="403" y="225.8" width="4.5" height="4.4"/></g>
<g id="k143" class="mq"><rect x="414" y="225.8" width="32" height="4.4"/><text x="417" y="228.8">SET20 SetDHWHeatDelta</text></g>
<g id="k144" class="fn"><rect x="222" y="232.2" width="27" height="4.4"/><text x="225" y="235.2">Load at boot</text></g>
<g id="k145" class="ui"><rect x="263" y="232.2" width="30" height="4.4"/><text x="266" y="235.2">Heater Delay Time</text></g>
<g id="k146" class="tr"><rect x="297" y="232.2" width="18" height="4.4"/><text x="300" y="235.2">trigger 5s</text></g>
<g id="k147" class="sw"><rect x="319" y="232.2" width="17" height="4.4"/><text x="322" y="235.2">Max</text></g>
<g id="k148" class="fn"><rect x="380" y="232.2" width="20" height="4.4"/><text x="383" y="235.2">Block?</text></g>
<g id="k149" class="sq"><rect x="403" y="232.2" width="4.5" height="4.4"/></g>
<g id="k150" class="mq"><rect x="414" y="232.2" width="32" height="4.4"/><text x="417" y="235.2">SET21 SetHeaterDelayTime</text></g>
<g id="k151" class="fn"><rect x="222" y="238.6" width="27" height="4.4"/><text x="225" y="241.6">Load at boot</text></g>
<g id="k152" class="ui"><rect x="263" y="238.6" width="30" height="4.4"/><text x="266" y="241.6">Heater Start delta</text></g>
<g id="k153" class="tr"><rect x="297" y="238.6" width="18" height="4.4"/><text x="300" y="241.6">trigger 5s</text></g>
<g id="k154" class="sw"><rect x="319" y="238.6" width="17" height="4.4"/><text x="322" y="241.6">Max</text></g>
<g id="k155" class="fn"><rect x="380" y="238.6" width="20" height="4.4"/><text x="383" y="241.6">Block?</text></g>
<g id="k156" class="sq"><rect x="403" y="238.6" width="4.5" height="4.4"/></g>
<g id="k157" class="mq"><rect x="414" y="238.6" width="32" height="4.4"/><text x="417" y="241.6">SET22 SetHeaterStartDelta</text></g>
<g id="k158" class="fn"><rect x="222" y="245" width="27" height="4.4"/><text x="225" y="248">Load at boot</text></g>
<g id="k159" class="ui"><rect x="263" y="245" width="30" height="4.4"/><text x="266" y="248">Heater Stop delta</text></g>
<g id="k160" class="tr"><rect x="297" y="245" width="18" height="4.4"/><text x="300" y="248">trigger 5s</text></g>
<g id="k161" class="sw"><rect x="319" y="245" width="17" height="4.4"/><text x="322" y="248">Max</text></g>
<g id="k162" class="fn"><rect x="380" y="245" width="20" height="4.4"/><text x="383" y="248">Block?</text></g>
<g id="k163" class="sq"><rect x="403" y="245" width="4.5" height="4.4"/></g>
<g id="k164" class="mq"><rect x="414" y="245" width="32" height="4.4"/><text x="417" y="248">SET23 SetHeaterStopDelta</text></g>
<g id="k165" class="fn"><rect x="222" y="252" width="27" height="4.4"/><text x="225" y="255">Load at boot</text></g>
<g id="k166" class="ui"><rect x="263" y="252" width="34" height="4.4"/><text x="266" y="255">Parasitic Heat Schedule</text></g>
<g id="k167" class="sw"><rect x="319" y="252" width="17" height="4.4"/><text x="322" y="255">Max</text></g>
<g id="k168" class="fn"><rect x="380" y="252" width="20" height="4.4"/><text x="383" y="255">Block?</text></g>
<g id="k169" class="sq"><rect x="403" y="252" width="4.5" height="4.4"/></g>
<g id="k170" class="mq"><rect x="414" y="252" width="32" height="4.4"/><text x="417" y="255">SET26 SetMainSchedule</text></g>
<g id="k171" class="mq"><rect x="222" y="261" width="52" height="4.4"/><text x="225" y="264">TOPIC - panasonic_heat_pump/main/Error</text></g>
<g id="k172" class="lk"><rect x="290" y="259" width="23" height="4.4"/><text x="293" y="262">Current error</text></g>
<g id="k173" class="ui"><rect x="316" y="258.5" width="30" height="4.4"/><text x="319" y="261.5">Reset current error</text></g>
<g id="k174" class="sw"><rect x="317" y="263" width="19" height="4.4"/><text x="320" y="266">Last error</text></g>
<g id="k175" class="sw"><rect x="346" y="263" width="16" height="4.4"/><text x="349" y="266">Map</text></g>
<g id="k176" class="ui"><rect x="352" y="258.5" width="20" height="4.4"/><text x="355" y="261.5">SET25</text></g>
<g id="k177" class="cm"><rect x="382" y="262" width="20" height="4.4"/><text x="385" y="265">Alert &amp; log</text></g>
<g id="k178" class="mq"><rect x="411" y="258.5" width="21" height="4.4"/><text x="414" y="261.5">SetReset</text></g>
<g id="k179" class="lk"><rect x="270" y="268" width="23" height="4.4"/><text x="273" y="271">Link - 1</text></g>
<g id="k180" class="lk"><rect x="302" y="268" width="29" height="4.4"/><text x="305" y="271">Link - parameters</text></g>
<g id="k181" class="in"><rect x="283" y="274.5" width="30" height="4.4"/><text x="286" y="277.5">Startup once</text></g>
<g id="k182" class="fn"><rect x="222" y="272" width="27" height="4.4"/><text x="225" y="275">Load at boot</text></g>
<g id="k183" class="lk"><rect x="365" y="272" width="17" height="4.4"/><text x="368" y="275">Heater</text></g>
<g id="k184" class="fn"><rect x="222" y="278.5" width="27" height="4.4"/><text x="225" y="281.5">Load at boot</text></g>
<g id="k185" class="lk"><rect x="365" y="278.5" width="27" height="4.4"/><text x="368" y="281.5">Heat capacity</text></g>
<g id="k186" class="fn"><rect x="222" y="285" width="27" height="4.4"/><text x="225" y="288">Load at boot</text></g>
<g id="k187" class="lk"><rect x="365" y="285" width="30" height="4.4"/><text x="368" y="288">Power correction</text></g>
<g id="k188" class="lk"><rect x="398" y="285" width="20" height="4.4"/><text x="401" y="288">Link test</text></g>
<g id="k189" class="fn"><rect x="222" y="291.5" width="27" height="4.4"/><text x="225" y="294.5">Load at boot</text></g>
<g id="k190" class="lk"><rect x="365" y="291.5" width="17" height="4.4"/><text x="368" y="294.5">Type</text></g>
<g id="w1" class="in"><rect x="458" y="199" width="20" height="4.4"/><text x="462" y="202">Watchdog</text></g>
<g id="p1" class="sq"><rect x="492" y="6" width="4.5" height="4.4"/></g>
<g id="p2" class="fn"><rect x="502" y="7" width="25" height="8"/><text x="505" y="12">shift to others</text></g>
<g id="p3" class="cm"><rect x="494" y="19" width="19" height="4.4"/><text x="497" y="22">MWR type</text></g>
<g id="p4" class="cm"><rect x="494" y="25" width="16" height="4.4"/><text x="497" y="28">SP on</text></g>
<g id="p5" class="lk"><rect x="546" y="9" width="29" height="4.4"/><text x="549" y="12">Lw/Tset water temp</text></g>
<g id="p6" class="sq"><rect x="539" y="18" width="4.5" height="4.4"/></g>
<g id="p7" class="ui"><rect x="545" y="22" width="26" height="4.4"/><text x="548" y="25">SP_DIRECT_UO</text></g>
<g id="p8" class="fn"><rect x="589" y="22" width="45" height="4.4"/><text x="592" y="25">set SP_N_phase SP_DIRECT_UO</text></g>
<g id="p9" class="tr"><rect x="589" y="28.5" width="23" height="4.4"/><text x="592" y="31.5">trigger 5s</text></g>
<g id="p10" class="sq"><rect x="642" y="28.5" width="4.5" height="4.4"/></g>
<g id="p11" class="sq"><rect x="539" y="28.5" width="4.5" height="4.4"/></g>
<g id="p12" class="sq"><rect x="486" y="39" width="4.5" height="4.4"/></g>
<g id="p13" class="fn"><rect x="494" y="43" width="29" height="20"/><text x="497" y="54">Load at boot MWR</text></g>
<g id="p14" class="ui"><rect x="543" y="38" width="23" height="4.4"/><text x="546" y="41">MWR on/off</text></g>
<g id="p15" class="ui"><rect x="543" y="44.5" width="23" height="4.4"/><text x="546" y="47.5">MWR on/off</text></g>
<g id="p16" class="sw"><rect x="580" y="41.5" width="15" height="4.4"/><text x="583" y="44.5">Map</text></g>
<g id="p17" class="fn"><rect x="608" y="41.5" width="43" height="4.4"/><text x="611" y="44.5">get Correction_in_MWR_on_off</text></g>
<g id="p18" class="sq"><rect x="655" y="41.5" width="4.5" height="4.4"/></g>
<g id="p19" class="ui"><rect x="543" y="52" width="24" height="4.4"/><text x="546" y="55">Outside temp</text></g>
<g id="p20" class="ui"><rect x="569" y="52" width="23" height="4.4"/><text x="572" y="55">Water temp</text></g>
<g id="p21" class="ui"><rect x="543" y="56.5" width="20" height="4.4"/><text x="546" y="59.5">set_c0</text></g>
<g id="p22" class="ui"><rect x="569" y="56.5" width="23" height="4.4"/><text x="572" y="59.5">set_c0</text></g>
<g id="p23" class="ui"><rect x="543" y="62" width="20" height="4.4"/><text x="546" y="65">set_c1</text></g>
<g id="p24" class="ui"><rect x="569" y="62" width="23" height="4.4"/><text x="572" y="65">set_c1</text></g>
<g id="p25" class="ui"><rect x="543" y="68.5" width="20" height="4.4"/><text x="546" y="71.5">set_c3</text></g>
<g id="p26" class="ui"><rect x="569" y="68.5" width="23" height="4.4"/><text x="572" y="71.5">set_c3</text></g>
<g id="p27" class="lk"><rect x="606" y="52" width="25" height="4.4"/><text x="609" y="55">Outside temp</text></g>
<g id="p28" class="lk"><rect x="597" y="58.5" width="34" height="4.4"/><text x="600" y="61.5">Calculated water temp</text></g>
<g id="p29" class="lk"><rect x="633" y="55" width="24" height="4.4"/><text x="636" y="58">Graph description</text></g>
<g id="p30" class="lk"><rect x="597" y="65" width="45" height="4.4"/><text x="600" y="68">F outside temp/Function lists</text></g>
<g id="p31" class="lk"><rect x="608" y="71.5" width="20" height="4.4"/><text x="611" y="74.5">T outside</text></g>
<g id="p32" class="fn"><rect x="525" y="78" width="18" height="4.4"/><text x="528" y="81">set pst_ctl</text></g>
<g id="p33" class="sq"><rect x="539" y="81" width="4.5" height="4.4"/></g>
<g id="p34" class="sq"><rect x="486" y="81" width="4.5" height="4.4"/></g>
<g id="p35" class="fn"><rect x="579" y="81" width="18" height="4.4"/><text x="582" y="84">Chart MWR</text></g>
<g id="p36" class="fn"><rect x="623" y="81" width="19" height="4.4"/><text x="626" y="84">function 8</text></g>
<g id="p37" class="in"><rect x="533" y="84.5" width="36" height="4.4"/><text x="536" y="87.5">Trigger interval 1m (..)</text></g>
<g id="p38" class="lk"><rect x="599" y="88" width="52" height="4.4"/><text x="602" y="91">SP MWR - Function MWR settings list</text></g>
<g id="p39" class="sq"><rect x="539" y="95" width="4.5" height="4.4"/></g>
<g id="p40" class="fn"><rect x="576" y="95" width="16" height="4.4"/><text x="579" y="98">Date</text></g>
<g id="p41" class="lk"><rect x="599" y="95" width="52" height="4.4"/><text x="602" y="98">SP MWR - Heat MWR Function data</text></g>
<g id="p42" class="in"><rect x="660" y="58.5" width="20" height="4.4"/><text x="663" y="61.5">on boot</text></g>
<g id="p43" class="fn"><rect x="665" y="65" width="25" height="4.4"/><text x="668" y="68">Load information</text></g>
<g id="p44" class="lk"><rect x="660" y="74.5" width="37" height="4.4"/><text x="663" y="77.5">MWR temperature profile</text></g>
<g id="p45" class="lk"><rect x="660" y="81" width="27" height="4.4"/><text x="663" y="84">MWR Time chart</text></g>
<g id="p46" class="in"><rect x="660" y="88" width="17" height="4.4"/><text x="663" y="91">restart</text></g>
<g id="p47" class="lk"><rect x="702" y="78" width="23" height="4.4"/><text x="705" y="81">Link - Debug</text></g>
<g id="p48" class="tr"><rect x="700" y="88" width="30" height="4.4"/><text x="703" y="91">limit 1 msg/2min</text></g>
<g id="p49" class="fn"><rect x="700" y="94.5" width="28" height="4.4"/><text x="703" y="97.5">Store information</text></g>
<g id="p50" class="lk"><rect x="692" y="57.5" width="15" height="4.4"/><text x="695" y="60.5">Link</text></g>
<g id="p51" class="lk"><rect x="697" y="61" width="18" height="4.4"/><text x="700" y="64">spacer 1</text></g>
<g id="p52" class="lk"><rect x="717" y="61" width="32" height="4.4"/><text x="720" y="64">Weather spacer 3c1</text></g>
<g id="p53" class="lk"><rect x="707" y="15" width="22" height="4.4"/><text x="710" y="18">Link - Debug</text></g>
<g id="p54" class="lk"><rect x="658" y="19" width="20" height="4.4"/><text x="661" y="22">spacer 0c1</text></g>
<g id="p55" class="lk"><rect x="675" y="22" width="16" height="4.4"/><text x="678" y="25">Delete 0c1</text></g>
<g id="p56" class="lk"><rect x="683" y="25" width="15" height="4.4"/><text x="686" y="28">spacer 0c1</text></g>
<g id="p57" class="lk"><rect x="671" y="32" width="21" height="4.4"/><text x="674" y="35">spacer 0c1</text></g>
<g id="p58" class="lk"><rect x="679" y="35" width="18" height="4.4"/><text x="682" y="38">spacer 0c1</text></g>
<g id="p59" class="lk"><rect x="683" y="38.5" width="17" height="4.4"/><text x="686" y="41.5">spacer 0c1</text></g>
<g id="p60" class="lk"><rect x="678" y="48" width="22" height="4.4"/><text x="681" y="51">spacer 0c1</text></g>
<g id="p61" class="lk"><rect x="716" y="25" width="29" height="4.4"/><text x="719" y="28">Import spacer 3c1</text></g>
<g id="p62" class="lk"><rect x="716" y="32" width="26" height="4.4"/><text x="719" y="35">Draw spacer 3c1</text></g>
<g id="p63" class="lk"><rect x="716" y="38.5" width="17" height="4.4"/><text x="719" y="41.5">Cond 0c1</text></g>
<g id="p64" class="lk"><rect x="724" y="45" width="35" height="4.4"/><text x="727" y="48">Link - Temperature profile</text></g>
<g id="p65" class="lk"><rect x="720" y="52" width="23" height="4.4"/><text x="723" y="55">Link - Debug</text></g>
<g id="p66" class="lk"><rect x="739" y="74.5" width="34" height="4.4"/><text x="742" y="77.5">Link Outdoor temperature</text></g>
<g id="p67" class="lk"><rect x="786" y="84.5" width="16" height="4.4"/><text x="789" y="87.5">spacer</text></g>
<g id="q1" class="in"><rect x="488" y="117" width="35" height="4.4"/><text x="491" y="120">Trigger - 10 minutes</text></g>
<g id="q2" class="in"><rect x="488" y="124" width="35" height="4.4"/><text x="491" y="127">Trigger - 10 minutes</text></g>
<g id="q3" class="sq"><rect x="488" y="130.5" width="4.5" height="4.4"/></g>
<g id="q4" class="fn"><rect x="493" y="141" width="30" height="36"/><text x="496" y="160">Load at boot HPC</text></g>
<g id="q5" class="ui"><rect x="563" y="120" width="32" height="4.4"/><text x="566" y="123">HPC on/off mode_MWR</text></g>
<g id="q6" class="ui"><rect x="563" y="127" width="35" height="4.4"/><text x="566" y="130">HPC on/off HPC_Settings</text></g>
<g id="q7" class="fn"><rect x="618" y="124" width="15" height="4.4"/><text x="621" y="127">Filter</text></g>
<g id="q8" class="fn"><rect x="656" y="124" width="32" height="4.4"/><text x="659" y="127">set F_HPC state on/off</text></g>
<g id="q9" class="sq"><rect x="656" y="117.5" width="4.5" height="4.4"/></g>
<g id="q10" class="sq"><rect x="539" y="127" width="4.5" height="4.4"/></g>
<g id="q11" class="sq"><rect x="775" y="117.5" width="4.5" height="4.4"/></g>
<g id="q12" class="sq"><rect x="775" y="124" width="4.5" height="4.4"/></g>
<g id="q13" class="sq"><rect x="775" y="130.5" width="4.5" height="4.4"/></g>
<g id="q14" class="sq"><rect x="775" y="137" width="4.5" height="4.4"/></g>
<g id="q15" class="lk"><rect x="537" y="134" width="22" height="4.4"/><text x="540" y="137">Link - Debug</text></g>
<g id="q16" class="lk"><rect x="537" y="140" width="22" height="4.4"/><text x="540" y="143">Watch mode</text></g>
<g id="q17" class="ui"><rect x="563" y="140" width="15" height="4.4"/><text x="566" y="143">c0</text></g>
<g id="q18" class="ui"><rect x="585" y="140" width="17" height="4.4"/><text x="588" y="143">sw_c0</text></g>
<g id="q19" class="ui"><rect x="563" y="146.5" width="15" height="4.4"/><text x="566" y="149.5">c1</text></g>
<g id="q20" class="ui"><rect x="585" y="146.5" width="17" height="4.4"/><text x="588" y="149.5">sw_c1</text></g>
<g id="q21" class="ui"><rect x="563" y="153" width="15" height="4.4"/><text x="566" y="156">c2</text></g>
<g id="q22" class="ui"><rect x="585" y="153" width="17" height="4.4"/><text x="588" y="156">sw_c2</text></g>
<g id="q23" class="ui"><rect x="563" y="160" width="25" height="4.4"/><text x="566" y="163">Room setpoint</text></g>
<g id="q24" class="ui"><rect x="563" y="166" width="19" height="4.4"/><text x="566" y="169">Room actual</text></g>
<g id="q25" class="lk"><rect x="592" y="163" width="12" height="4.4"/><text x="595" y="166">Max C</text></g>
<g id="q26" class="ui"><rect x="563" y="173" width="15" height="4.4"/><text x="566" y="176">c4</text></g>
<g id="q27" class="ui"><rect x="585" y="173" width="17" height="4.4"/><text x="588" y="176">sw_c4</text></g>
<g id="q28" class="ui"><rect x="563" y="179" width="15" height="4.4"/><text x="566" y="182">c5</text></g>
<g id="q29" class="ui"><rect x="585" y="179" width="17" height="4.4"/><text x="588" y="182">sw_c5</text></g>
<g id="q30" class="ui"><rect x="563" y="186" width="15" height="4.4"/><text x="566" y="189">c6</text></g>
<g id="q31" class="ui"><rect x="585" y="186" width="17" height="4.4"/><text x="588" y="189">sw_c6</text></g>
<g id="q32" class="ui"><rect x="563" y="192.5" width="19" height="4.4"/><text x="566" y="195.5">CUSTOM</text></g>
<g id="q33" class="ui"><rect x="585" y="192.5" width="17" height="4.4"/><text x="588" y="195.5">sw_c7</text></g>
<g id="q34" class="sq"><rect x="537" y="166" width="4.5" height="4.4"/></g>
<g id="q35" class="lk"><rect x="537" y="173" width="22" height="4.4"/><text x="540" y="176">Fixed mode</text></g>
<g id="q36" class="lk"><rect x="539" y="192.5" width="20" height="4.4"/><text x="542" y="195.5">Custom</text></g>
<g id="q37" class="lk"><rect x="530" y="199" width="29" height="4.4"/><text x="533" y="202">Link - HPC results</text></g>
<g id="q38" class="tr"><rect x="635" y="173" width="21" height="4.4"/><text x="638" y="176">trigger 5s</text></g>
<g id="q39" class="fn"><rect x="660" y="173" width="27" height="4.4"/><text x="663" y="176">set hc_X changed</text></g>
<g id="q40" class="sw"><rect x="665" y="160" width="15" height="4.4"/><text x="668" y="163">Max</text></g>
<g id="q41" class="sq"><rect x="775" y="160" width="4.5" height="4.4"/></g>
<g id="q42" class="tr"><rect x="682" y="137" width="18" height="4.4"/><text x="685" y="140">trigger 5s</text></g>
<g id="q43" class="lk"><rect x="710" y="143.5" width="22" height="4.4"/><text x="713" y="146.5">spacer 0c0</text></g>
<g id="q44" class="lk"><rect x="710" y="150" width="20" height="4.4"/><text x="713" y="153">spacer 0c0</text></g>
<g id="q45" class="fn"><rect x="697" y="173" width="29" height="4.4"/><text x="700" y="176">Get Room setpoint</text></g>
<g id="q46" class="sw"><rect x="731" y="169" width="15" height="4.4"/><text x="734" y="172">Http</text></g>
<g id="q47" class="sw"><rect x="731" y="176" width="15" height="4.4"/><text x="734" y="179">Max</text></g>
<g id="q48" class="sq"><rect x="750" y="169" width="4.5" height="4.4"/></g>
<g id="q49" class="sq"><rect x="750" y="176" width="4.5" height="4.4"/></g>
<g id="q50" class="fn"><rect x="585" y="199" width="27" height="4.4"/><text x="588" y="202">save condition</text></g>
<g id="q51" class="fn"><rect x="628" y="199" width="59" height="4.4"/><text x="631" y="202">set F_HPC incremental_setpoint_state on/off</text></g>
<g id="q52" class="sq"><rect x="493" y="212" width="4.5" height="4.4"/></g>
<g id="q53" class="sw"><rect x="500" y="212" width="25" height="4.4"/><text x="503" y="215">Load map custom</text></g>
<g id="q54" class="lk"><rect x="530" y="212" width="20" height="4.4"/><text x="533" y="215">Link To</text></g>
<g id="q55" class="fn"><rect x="542" y="205" width="17" height="4.4"/><text x="545" y="208">C</text></g>
<g id="q56" class="ui"><rect x="563" y="205" width="40" height="4.4"/><text x="566" y="208">Function HPC - Current correction</text></g>
<g id="q57" class="ui"><rect x="568" y="212" width="54" height="4.4"/><text x="571" y="215">F_HPC incremental_setpoint_state on/off</text></g>
<g id="q58" class="lk"><rect x="527" y="219" width="32" height="4.4"/><text x="530" y="222">Link automatic</text></g>
<g id="q59" class="lk"><rect x="527" y="225.5" width="35" height="4.4"/><text x="530" y="228.5">Trigger action setpoint off</text></g>
<g id="q60" class="ui"><rect x="566" y="225.5" width="39" height="4.4"/><text x="569" y="228.5">sw_on(activate automation)</text></g>
<g id="q61" class="lk"><rect x="527" y="232" width="32" height="4.4"/><text x="530" y="235">Reset action status off</text></g>
<g id="q62" class="ui"><rect x="566" y="232" width="39" height="4.4"/><text x="569" y="235">sw_off(deactivate automation)</text></g>
<g id="q63" class="ui"><rect x="500" y="235" width="25" height="4.4"/><text x="503" y="238">HPC on/off Start</text></g>
<g id="q64" class="ui"><rect x="502" y="242" width="28" height="4.4"/><text x="505" y="245">HPC on/off HPC200</text></g>
<g id="q65" class="lk"><rect x="523" y="238.5" width="44" height="4.4"/><text x="526" y="241.5">Link Set automation actions</text></g>
<g id="q66" class="lk"><rect x="572" y="238.5" width="23" height="4.4"/><text x="575" y="241.5">Link Set Weight</text></g>
<g id="q67" class="lk"><rect x="527" y="245" width="25" height="4.4"/><text x="530" y="248">Link Set mode</text></g>
<g id="q68" class="lk"><rect x="572" y="245" width="15" height="4.4"/><text x="575" y="248">Status</text></g>
<g id="q69" class="fn"><rect x="566" y="251" width="31" height="4.4"/><text x="569" y="254">automation status</text></g>
<g id="q70" class="lk"><rect x="527" y="252" width="16" height="4.4"/><text x="530" y="255">Quit</text></g>
<g id="q71" class="fn"><rect x="610" y="238.5" width="37" height="4.4"/><text x="613" y="241.5">get F_HPC_HX_sett_state</text></g>
<g id="q72" class="fn"><rect x="609" y="245" width="38" height="4.4"/><text x="612" y="248">set F_HPC_F1_power_state</text></g>
<g id="q73" class="sw"><rect x="665" y="241" width="15" height="4.4"/><text x="668" y="244">Max</text></g>
<g id="q74" class="sq"><rect x="512" y="258.5" width="4.5" height="4.4"/></g>
<g id="q75" class="fn"><rect x="540" y="258.5" width="17" height="4.4"/><text x="543" y="261.5">Date</text></g>
<g id="q76" class="lk"><rect x="563" y="258.5" width="49" height="4.4"/><text x="566" y="261.5">Inverter Heat - Current correction value HPC</text></g>
<g id="q77" class="lk"><rect x="631" y="258.5" width="32" height="4.4"/><text x="634" y="261.5">HPC H2 (Hours_HEAT)</text></g>
<g id="q78" class="in"><rect x="652" y="219" width="19" height="4.4"/><text x="655" y="222">on boot ()</text></g>
<g id="q79" class="in"><rect x="652" y="225.5" width="19" height="4.4"/><text x="655" y="228.5">on boot</text></g>
<g id="q80" class="fn"><rect x="681" y="219" width="22" height="4.4"/><text x="684" y="222">Chart HPC</text></g>
<g id="q81" class="fn"><rect x="681" y="225.5" width="22" height="4.4"/><text x="684" y="228.5">Load information</text></g>
<g id="q82" class="in"><rect x="720" y="216" width="23" height="4.4"/><text x="723" y="219">restart</text></g>
<g id="q83" class="lk"><rect x="723" y="222" width="20" height="4.4"/><text x="726" y="225">Chart</text></g>
<g id="q84" class="lk"><rect x="720" y="232" width="20" height="4.4"/><text x="723" y="235">Dashbody</text></g>
<g id="q85" class="fn"><rect x="748" y="235" width="27" height="4.4"/><text x="751" y="238">Store information</text></g>
<g id="s1" class="cm"><rect x="491" y="278" width="16" height="4.4"/><text x="494" y="281">SG card</text></g>
<g id="s2" class="sq"><rect x="503" y="284.5" width="4.5" height="4.4"/></g>
<g id="s3" class="sq"><rect x="503" y="291" width="4.5" height="4.4"/></g>
<g id="s4" class="in"><rect x="491" y="297.5" width="19" height="4.4"/><text x="494" y="300.5">Inject</text></g>
<g id="s5" class="fn"><rect x="517" y="288" width="31" height="6"/><text x="520" y="291.8">Load at boot SG</text></g>
<g id="s6" class="lk"><rect x="553" y="284.5" width="22" height="4.4"/><text x="556" y="287.5">SGReady on</text></g>
<g id="s7" class="lk"><rect x="553" y="291" width="22" height="4.4"/><text x="556" y="294">Link debug</text></g>
<g id="s8" class="lk"><rect x="553" y="297.5" width="22" height="4.4"/><text x="556" y="300.5">Running</text></g>
<g id="s9" class="ui"><rect x="593" y="278" width="28" height="4.4"/><text x="596" y="281">SGReady on/off(SGS)</text></g>
<g id="s10" class="ui"><rect x="593" y="284.5" width="31" height="4.4"/><text x="596" y="287.5">SGReady on/off(delete)</text></g>
<g id="s11" class="fn"><rect x="637" y="281" width="20" height="4.4"/><text x="640" y="284">Filter</text></g>
<g id="s12" class="fn"><rect x="661" y="281" width="26" height="4.4"/><text x="664" y="284">set F_SG state</text></g>
<g id="s13" class="sq"><rect x="708" y="281" width="4.5" height="4.4"/></g>
<g id="s14" class="ui"><rect x="593" y="297.5" width="19" height="4.4"/><text x="596" y="300.5">Q5Ready</text></g>
<g id="s15" class="ui"><rect x="593" y="304" width="31" height="4.4"/><text x="596" y="307">Heater cable_defrost</text></g>
<g id="s16" class="sw"><rect x="635" y="304" width="17" height="4.4"/><text x="638" y="307">Max</text></g>
<g id="s17" class="fn"><rect x="661" y="297.5" width="36" height="4.4"/><text x="664" y="300.5">set F_SG HotW_power</text></g>
<g id="s18" class="fn"><rect x="661" y="304" width="40" height="4.4"/><text x="664" y="307">set F_SG heater_cable_defrost</text></g>
<g id="s19" class="sq"><rect x="708" y="297.5" width="4.5" height="4.4"/></g>
<g id="s20" class="lk"><rect x="550" y="307.5" width="28" height="4.4"/><text x="553" y="310.5">Link temperature</text></g>
<g id="s21" class="ui"><rect x="593" y="311" width="22" height="4.4"/><text x="596" y="314">Temperature</text></g>
<g id="s22" class="sq"><rect x="535" y="311" width="4.5" height="4.4"/></g>
<g id="s23" class="sq"><rect x="535" y="317.5" width="4.5" height="4.4"/></g>
<g id="s24" class="ui"><rect x="593" y="317.5" width="24" height="4.4"/><text x="596" y="320.5">Current runtime</text></g>
<g id="s25" class="lk"><rect x="553" y="320.5" width="23" height="4.4"/><text x="556" y="323.5">Link Result</text></g>
<g id="s26" class="sq"><rect x="499" y="324.5" width="4.5" height="4.4"/></g>
<g id="s27" class="fn"><rect x="527" y="324.5" width="16" height="4.4"/><text x="530" y="327.5">x</text></g>
<g id="s28" class="ui"><rect x="593" y="324.5" width="38" height="4.4"/><text x="596" y="327.5">SG - Current connection (SG)</text></g>
<g id="s29" class="fn"><rect x="527" y="331" width="16" height="4.4"/><text x="530" y="334">Timer</text></g>
<g id="s30" class="ui"><rect x="593" y="331" width="41" height="4.4"/><text x="596" y="334">Hourly - Current connection (SG)</text></g>
<g id="x1" class="sq"><rect x="491" y="353" width="4.5" height="4.4"/></g>
<g id="x2" class="sq"><rect x="503" y="353" width="4.5" height="4.4"/></g>
<g id="x3" class="in"><rect x="507" y="353" width="20" height="4.4"/><text x="510" y="356">on boot</text></g>
<g id="x4" class="fn"><rect x="529" y="353" width="30" height="4.4"/><text x="532" y="356">Load information</text></g>
<g id="x5" class="in"><rect x="491" y="359.5" width="36" height="4.4"/><text x="494" y="362.5">Trigger interval 1m (..)</text></g>
<g id="x6" class="fn"><rect x="537" y="359.5" width="22" height="4.4"/><text x="540" y="362.5">Chart SR</text></g>
<g id="x7" class="in"><rect x="566" y="363" width="17" height="4.4"/><text x="569" y="366">restart</text></g>
<g id="x8" class="lk"><rect x="589" y="349.5" width="20" height="4.4"/><text x="592" y="352.5">Link - Debug</text></g>
<g id="x9" class="lk"><rect x="589" y="356" width="20" height="4.4"/><text x="592" y="359">SR chart</text></g>
<g id="x10" class="tr"><rect x="612" y="356" width="21" height="4.4"/><text x="615" y="359">Fixed 1s</text></g>
<g id="x11" class="fn"><rect x="636" y="356" width="30" height="4.4"/><text x="639" y="359">Store information</text></g>
<g id="m1" class="lk"><rect x="527" y="379.5" width="29" height="4.4"/><text x="530" y="382.5">Advanced settings</text></g>
<g id="m2" class="in"><rect x="490" y="386.5" width="36" height="4.4"/><text x="493" y="389.5">1 Trigger - 60 minutes</text></g>
<g id="m3" class="sw"><rect x="543" y="386.5" width="16" height="4.4"/><text x="546" y="389.5">Max</text></g>
<g id="m4" class="ui"><rect x="569" y="379.5" width="43" height="4.4"/><text x="572" y="382.5">Show SmartSet_Advanced tab</text></g>
<g id="m5" class="ui"><rect x="569" y="386.5" width="39" height="4.4"/><text x="572" y="389.5">Hide SmartSet_Advanced tab</text></g>
<g id="m6" class="lk"><rect x="569" y="393" width="23" height="4.4"/><text x="572" y="396">Dashbody</text></g>
<g id="m7" class="sw"><rect x="618" y="379.5" width="26" height="4.4"/><text x="621" y="382.5">set msg topic</text></g>
<g id="m8" class="tr"><rect x="618" y="386.5" width="19" height="4.4"/><text x="621" y="389.5">delay 1s</text></g>
<g id="m9" class="tr"><rect x="643" y="386.5" width="24" height="4.4"/><text x="646" y="389.5">trigger 5min</text></g>
<g id="m10" class="fn"><rect x="492" y="399" width="25" height="18"/><text x="495" y="409">Load at boot</text></g>
<g id="m11" class="lk"><rect x="553" y="399.5" width="23" height="4.4"/><text x="556" y="402.5">Link Flagger X</text></g>
<g id="m12" class="lk"><rect x="527" y="406" width="32" height="4.4"/><text x="530" y="409">Catch duration start</text></g>
<g id="m13" class="lk"><rect x="527" y="412.5" width="32" height="4.4"/><text x="530" y="415.5">Message delay (sec)</text></g>
<g id="m14" class="lk"><rect x="527" y="419" width="32" height="4.4"/><text x="530" y="422">Max temp difference (°C)</text></g>
<g id="m15" class="lk"><rect x="553" y="425.5" width="23" height="4.4"/><text x="556" y="428.5">Link Phase 2</text></g>
<g id="m16" class="lk"><rect x="527" y="432" width="32" height="4.4"/><text x="530" y="435">Message delay (sec)</text></g>
<g id="m17" class="lk"><rect x="553" y="452" width="23" height="4.4"/><text x="556" y="455">Link Phase 3</text></g>
<g id="m18" class="lk"><rect x="527" y="458.5" width="35" height="4.4"/><text x="530" y="461.5">Message delay limit (%)</text></g>
<g id="m19" class="ui"><rect x="569" y="406" width="26" height="4.4"/><text x="572" y="409">stage 1 duration</text></g>
<g id="m20" class="ui"><rect x="569" y="412.5" width="26" height="4.4"/><text x="572" y="415.5">stage 1 delay</text></g>
<g id="m21" class="ui"><rect x="569" y="419" width="29" height="4.4"/><text x="572" y="422">phase_1_max_dT</text></g>
<g id="m22" class="ui"><rect x="569" y="432" width="24" height="4.4"/><text x="572" y="435">stage 2 delay</text></g>
<g id="m23" class="ui"><rect x="569" y="438.5" width="33" height="4.4"/><text x="572" y="441.5">speedlimit_correction</text></g>
<g id="m24" class="ui"><rect x="569" y="445" width="33" height="4.4"/><text x="572" y="448">speedlimit_correction</text></g>
<g id="m25" class="ui"><rect x="569" y="458.5" width="24" height="4.4"/><text x="572" y="461.5">stage 3 delay</text></g>
<g id="m26" class="tr"><rect x="612" y="416" width="20" height="4.4"/><text x="615" y="419">trigger 5s</text></g>
<g id="m27" class="fn"><rect x="638" y="416" width="33" height="4.4"/><text x="641" y="419">global set to variable</text></g>
<g id="m28" class="tr"><rect x="608" y="442" width="20" height="4.4"/><text x="611" y="445">trigger 5s</text></g>
<g id="m29" class="fn"><rect x="638" y="442" width="42" height="4.4"/><text x="641" y="445">set F_SB speedlimit_correction</text></g>
<g id="m30" class="sq"><rect x="493" y="425.5" width="4.5" height="4.4"/></g>
<g id="m31" class="lk"><rect x="661" y="458.5" width="20" height="4.4"/><text x="664" y="461.5">Q function</text></g>
<g id="m32" class="lk"><rect x="537" y="475" width="35" height="4.4"/><text x="540" y="478">Link SmartMode settings</text></g>
<g id="m33" class="sw"><rect x="639" y="475" width="24" height="4.4"/><text x="642" y="478">set msg topic</text></g>
<g id="e1" class="mq"><rect x="0" y="245" width="73" height="4.4"/><text x="3" y="248">TOPIC - panasonic_heat_pump/main/Heat_Energy_Production</text></g>
<g id="e2" class="tr"><rect x="80" y="245" width="27" height="4.4"/><text x="83" y="248">limit 1 msg/5min</text></g>
<g id="e3" class="sw"><rect x="108" y="245" width="25" height="4.4"/><text x="111" y="248">set msg topic</text></g>
<g id="e4" class="sq"><rect x="25" y="252" width="4.5" height="4.4"/></g>
<g id="e5" class="tr"><rect x="80" y="252" width="27" height="4.4"/><text x="83" y="255">limit 1 msg/5min</text></g>
<g id="e6" class="sw"><rect x="108" y="252" width="25" height="4.4"/><text x="111" y="255">set msg topic</text></g>
<g id="e7" class="sq"><rect x="163" y="252" width="4.5" height="4.4"/></g>
<g id="e8" class="in"><rect x="0" y="258" width="20" height="4.4"/><text x="3" y="261">trigger</text></g>
<g id="e9" class="fn"><rect x="53" y="258" width="25" height="4.4"/><text x="56" y="261">function</text></g>
<g id="e10" class="lk"><rect x="150" y="258" width="18" height="4.4"/><text x="153" y="261">Energy</text></g>
<g id="e11" class="fn"><rect x="148" y="264.5" width="20" height="4.4"/><text x="151" y="267.5">function</text></g>
<g id="e12" class="mq"><rect x="0" y="264.5" width="73" height="4.4"/><text x="3" y="267.5">TOPIC - panasonic_heat_pump/main/DHW_Energy_Production</text></g>
<g id="e13" class="tr"><rect x="80" y="264.5" width="27" height="4.4"/><text x="83" y="267.5">limit 1 msg/5min</text></g>
<g id="e14" class="sw"><rect x="108" y="264.5" width="25" height="4.4"/><text x="111" y="267.5">set msg topic</text></g>
<g id="e15" class="sq"><rect x="25" y="274" width="4.5" height="4.4"/></g>
<g id="e16" class="tr"><rect x="80" y="274" width="27" height="4.4"/><text x="83" y="277">limit 1 msg/5min</text></g>
<g id="e17" class="sw"><rect x="108" y="274" width="25" height="4.4"/><text x="111" y="277">set msg topic</text></g>
<g id="e18" class="sq"><rect x="163" y="274" width="4.5" height="4.4"/></g>
<g id="e19" class="in"><rect x="135" y="284.5" width="20" height="4.4"/><text x="138" y="287.5">RESET</text></g>
<g id="e20" class="mq"><rect x="3" y="294" width="70" height="4.4"/><text x="6" y="297">TOPIC - panasonic_heat_pump/main/Compressor_Current</text></g>
<g id="e21" class="tr"><rect x="80" y="294" width="27" height="4.4"/><text x="83" y="297">limit 1 msg/5min</text></g>
<g id="e22" class="sw"><rect x="108" y="294" width="25" height="4.4"/><text x="111" y="297">set msg topic</text></g>
<g id="e23" class="sq"><rect x="25" y="304" width="4.5" height="4.4"/></g>
<g id="e24" class="tr"><rect x="80" y="304" width="27" height="4.4"/><text x="83" y="307">limit 1 msg/5min</text></g>
<g id="e25" class="sw"><rect x="108" y="304" width="25" height="4.4"/><text x="111" y="307">set msg topic</text></g>
<g id="e26" class="fn"><rect x="53" y="314" width="25" height="4.4"/><text x="56" y="317">function</text></g>
<g id="e27" class="lk"><rect x="145" y="314" width="22" height="4.4"/><text x="148" y="317">Efficiency</text></g>
<g id="e28" class="fn"><rect x="145" y="320.5" width="22" height="4.4"/><text x="148" y="323.5">function</text></g>
<g id="e29" class="cm"><rect x="110" y="320.5" width="23" height="4.4"/><text x="113" y="323.5">COP calculation</text></g>
<g id="e30" class="mq"><rect x="7" y="330.5" width="66" height="4.4"/><text x="10" y="333.5">TOPIC - panasonic_heat_pump/main/Pump_Outlet_Temp</text></g>
<g id="e31" class="tr"><rect x="80" y="330.5" width="27" height="4.4"/><text x="83" y="333.5">limit 1 msg/5min</text></g>
<g id="e32" class="sw"><rect x="108" y="330.5" width="25" height="4.4"/><text x="111" y="333.5">set msg topic</text></g>
<g id="e33" class="lk"><rect x="155" y="340.5" width="17" height="4.4"/><text x="158" y="343.5">Link</text></g>
<g id="e34" class="lk"><rect x="155" y="347" width="17" height="4.4"/><text x="158" y="350">Link</text></g>
<g id="e35" class="lk"><rect x="155" y="353.5" width="17" height="4.4"/><text x="158" y="356.5">Link</text></g>
<g id="t1" class="in"><rect x="0" y="350" width="30" height="4.4"/><text x="3" y="353">Trigger on start (1)</text></g>
<g id="t2" class="fn"><rect x="33" y="350" width="37" height="4.4"/><text x="36" y="353">Chart Room temperature</text></g>
<g id="t3" class="sq"><rect x="22" y="356" width="4.5" height="4.4"/></g>
<g id="t4" class="fn"><rect x="33" y="356" width="17" height="4.4"/><text x="36" y="359">load</text></g>
<g id="t5" class="lk"><rect x="86" y="350" width="29" height="4.4"/><text x="89" y="353">Room Temperature</text></g>
<g id="t6" class="fn"><rect x="126" y="350" width="20" height="4.4"/><text x="129" y="353">function</text></g>
<g id="t7" class="in"><rect x="86" y="356" width="19" height="4.4"/><text x="89" y="359">RESET</text></g>
<g id="t8" class="in"><rect x="6" y="366" width="14" height="4.4"/><text x="9" y="369">start</text></g>
<g id="t9" class="fn"><rect x="33" y="369.5" width="17" height="4.4"/><text x="36" y="372.5">load</text></g>
<g id="t10" class="fn"><rect x="33" y="376" width="34" height="4.4"/><text x="36" y="379">Chart Water (HEAT/DHW)</text></g>
<g id="t11" class="fn"><rect x="33" y="383" width="17" height="4.4"/><text x="36" y="386">load</text></g>
<g id="t12" class="in"><rect x="83" y="366" width="19" height="4.4"/><text x="86" y="369">RESET</text></g>
<g id="t13" class="lk"><rect x="86" y="372" width="24" height="4.4"/><text x="89" y="375">Water HEAT</text></g>
<g id="t14" class="fn"><rect x="126" y="372" width="20" height="4.4"/><text x="129" y="375">function</text></g>
<g id="t15" class="lk"><rect x="86" y="378.5" width="27" height="4.4"/><text x="89" y="381.5">Water DHW</text></g>
<g id="t16" class="fn"><rect x="126" y="378.5" width="20" height="4.4"/><text x="129" y="381.5">function</text></g>
<g id="t17" class="in"><rect x="83" y="386" width="19" height="4.4"/><text x="86" y="389">RESET</text></g>
<g id="h1" class="cm"><rect x="7" y="416" width="30" height="4.4"/><text x="10" y="419">IO heat information</text></g>
<g id="h2" class="in"><rect x="7" y="422" width="33" height="4.4"/><text x="10" y="425">Heatcurve after boot</text></g>
<g id="h3" class="fn"><rect x="62" y="422" width="33" height="4.4"/><text x="65" y="425">Load heat chart data</text></g>
<g id="h4" class="sq"><rect x="8" y="439" width="4.5" height="4.4"/></g>
<g id="h5" class="sw"><rect x="15" y="439" width="27" height="4.4"/><text x="18" y="442">set msg topic</text></g>
<g id="h6" class="tr"><rect x="47" y="439" width="20" height="4.4"/><text x="50" y="442">delay 3s</text></g>
<g id="h7" class="lk"><rect x="119" y="439" width="43" height="4.4"/><text x="122" y="442">Heat chart HEAT COP (Smoothie)</text></g>
<g id="h8" class="fn"><rect x="175" y="439" width="50" height="4.4"/><text x="178" y="442">Store information to COP_HEAT_data</text></g>
<g id="h9" class="sq"><rect x="8" y="456" width="4.5" height="4.4"/></g>
<g id="h10" class="sw"><rect x="15" y="456" width="27" height="4.4"/><text x="18" y="459">set msg topic</text></g>
<g id="h11" class="tr"><rect x="47" y="456" width="20" height="4.4"/><text x="50" y="459">delay 3s</text></g>
<g id="h12" class="lk"><rect x="119" y="456" width="43" height="4.4"/><text x="122" y="459">Heat chart DHW COP (Smoothie)</text></g>
<g id="h13" class="fn"><rect x="175" y="456" width="50" height="4.4"/><text x="178" y="459">Store information to COP_DHW_data</text></g>
<g id="l1" class="in"><rect x="190" y="309" width="32" height="4.4"/><text x="193" y="312">WAIT Ready (..)</text></g>
<g id="l2" class="lk"><rect x="234" y="307.5" width="24" height="4.4"/><text x="237" y="310.5">Free version</text></g>
<g id="l3" class="lk"><rect x="234" y="314" width="24" height="4.4"/><text x="237" y="317">Free version</text></g>
<g id="l4" class="lk"><rect x="277" y="307.5" width="23" height="4.4"/><text x="280" y="310.5">spacer 1c1</text></g>
<g id="l5" class="lk"><rect x="277" y="314" width="23" height="4.4"/><text x="280" y="317">spacer 1c1</text></g>
<g id="l6" class="lk"><rect x="303" y="307.5" width="20" height="4.4"/><text x="306" y="310.5">[STORED]</text></g>
<g id="l7" class="lk"><rect x="303" y="314" width="20" height="4.4"/><text x="306" y="317">Clear</text></g>
<g id="l8" class="tr"><rect x="336" y="307.5" width="24" height="4.4"/><text x="339" y="310.5">delay 10min</text></g>
<g id="l9" class="sw"><rect x="362" y="307.5" width="26" height="4.4"/><text x="365" y="310.5">change 2 rules</text></g>
<g id="l10" class="sw"><rect x="362" y="314" width="26" height="4.4"/><text x="365" y="317">set msg payload</text></g>
<g id="l11" class="in"><rect x="199" y="321" width="26" height="4.4"/><text x="202" y="324">System start</text></g>
<g id="l12" class="in"><rect x="202" y="327" width="23" height="4.4"/><text x="205" y="330">Input COSP</text></g>
<g id="l13" class="sq"><rect x="233" y="323.5" width="4.5" height="4.4"/></g>
<g id="l14" class="tr"><rect x="248" y="321" width="32" height="4.4"/><text x="251" y="324">Date/Time Formatter</text></g>
<g id="l15" class="tr"><rect x="248" y="327" width="32" height="4.4"/><text x="251" y="330">Date/Time Formatter</text></g>
<g id="l16" class="lk"><rect x="303" y="321" width="20" height="4.4"/><text x="306" y="324">Start 1</text></g>
<g id="l17" class="fn"><rect x="333" y="321" width="32" height="4.4"/><text x="336" y="324">Create input in contact</text></g>
<g id="l18" class="in"><rect x="290" y="327" width="32" height="4.4"/><text x="293" y="330">Max day log time (m)</text></g>
<g id="l19" class="in"><rect x="333" y="327" width="19" height="4.4"/><text x="336" y="330">inject data</text></g>
<g id="l20" class="tr"><rect x="287" y="334" width="18" height="4.4"/><text x="290" y="337">delay 1s</text></g>
<g id="l21" class="mq"><rect x="188" y="346" width="22" height="4.4"/><text x="191" y="349">runtimedata</text></g>
<g id="l22" class="sw"><rect x="215" y="346" width="28" height="4.4"/><text x="218" y="349">change msg topic</text></g>
<g id="l23" class="fn"><rect x="251" y="346" width="26" height="4.4"/><text x="254" y="349">MQTT counter</text></g>
<g id="l24" class="sq"><rect x="288" y="346" width="4.5" height="4.4"/></g>
<g id="l25" class="fn"><rect x="310" y="346" width="19" height="4.4"/><text x="313" y="349">function</text></g>
<g id="l26" class="fn"><rect x="336" y="346" width="38" height="4.4"/><text x="339" y="349">Add record to scrolling table</text></g>
<g id="l27" class="cm"><rect x="185" y="363" width="37" height="4.4"/><text x="188" y="366">Persistent storage check</text></g>
<g id="l28" class="sq"><rect x="236" y="363" width="4.5" height="4.4" style="fill:#fff;stroke-dasharray:.8 .5"/></g>
<g id="l29" class="sq"><rect x="253" y="363" width="4.5" height="4.4" style="fill:#fff;stroke-dasharray:.8 .5"/></g>
<g id="l30" class="cm fd"><rect x="185" y="370" width="37" height="4.4"/><text x="188" y="373">CUSTOM Persistence</text></g>
<g id="l31" class="fn"><rect x="238" y="370" width="24" height="4.4"/><text x="241" y="373">function 4</text></g>
<g id="l32" class="dg"><rect x="273" y="370" width="25" height="4.4"/><text x="276" y="373">debug 237</text></g>
<g id="l33" class="cm"><rect x="185" y="376.5" width="40" height="4.4"/><text x="188" y="379.5">Maintenance connection status</text></g>
<g id="l34" class="mq"><rect x="185" y="383" width="39" height="4.4"/><text x="188" y="386">panasonic_heat_pump/LWT</text></g>
<g id="l35" class="fn"><rect x="244" y="383" width="13" height="4.4"/><text x="247" y="386">Filter</text></g>
<g id="l36" class="sw"><rect x="267" y="383" width="30" height="4.4"/><text x="270" y="386">change msg topic</text></g>
<g id="l37" class="tr"><rect x="309" y="383" width="23" height="4.4"/><text x="312" y="386">delay 3 hr</text></g>
<g id="l38" class="mq"><rect x="187" y="393" width="61" height="4.4"/><text x="190" y="396">TOPIC - panasonic_heat_pump/main/Heating_Mode</text></g>
<g id="l39" class="fn"><rect x="274" y="393" width="19" height="4.4"/><text x="277" y="396">function 1</text></g>
<g id="l40" class="sw"><rect x="300" y="393" width="17" height="4.4"/><text x="303" y="396">Map</text></g>
<g id="l41" class="sq"><rect x="327" y="393" width="4.5" height="4.4"/></g>
<g id="l42" class="sq"><rect x="327" y="399.5" width="4.5" height="4.4"/></g>
<g id="l43" class="lk"><rect x="375" y="386" width="30" height="4.4"/><text x="378" y="389">Log to dashboard</text></g>
<g id="c1" class="lk"><rect x="324" y="432" width="30" height="4.4"/><text x="327" y="435">Link - panasonic</text></g>
<g id="c2" class="lk"><rect x="356" y="432" width="39" height="4.4"/><text x="359" y="435">Link - Heatmode information</text></g>
<g id="c3" class="sw"><rect x="336" y="438.5" width="22" height="4.4"/><text x="339" y="441.5">change 3 rules</text></g>
<g id="c4" class="lk"><rect x="369" y="438.5" width="26" height="4.4"/><text x="372" y="441.5">Heating mode</text></g>
<g id="c5" class="mq"><rect x="264" y="445" width="65" height="4.4"/><text x="267" y="448">TOPIC - panasonic_heat_pump/main/Cooling_Mode</text></g>
<g id="c6" class="sw"><rect x="336" y="445" width="22" height="4.4"/><text x="339" y="448">change 3 rules</text></g>
<g id="c7" class="lk"><rect x="369" y="445" width="26" height="4.4"/><text x="372" y="448">Cooling mode</text></g>
<g id="c8" class="mq"><rect x="264" y="451.5" width="65" height="4.4"/><text x="267" y="454.5">TOPIC - panasonic_heat_pump/main/Buffer_Installed</text></g>
<g id="c9" class="sw"><rect x="336" y="451.5" width="22" height="4.4"/><text x="339" y="454.5">change 3 rules</text></g>
<g id="c10" class="lk"><rect x="369" y="451.5" width="26" height="4.4"/><text x="372" y="454.5">Buffer installed</text></g>
<g id="c11" class="mq"><rect x="264" y="458" width="65" height="4.4"/><text x="267" y="461">TOPIC - panasonic_heat_pump/main/DHW_Installed</text></g>
<g id="c12" class="sw"><rect x="336" y="458" width="22" height="4.4"/><text x="339" y="461">change 3 rules</text></g>
<g id="c13" class="lk"><rect x="369" y="458" width="26" height="4.4"/><text x="372" y="461">DHW installed</text></g>
<g id="c14" class="mq"><rect x="264" y="465" width="65" height="4.4"/><text x="267" y="468">TOPIC - panasonic_heat_pump/main/Solar_Mode</text></g>
<g id="c15" class="sw"><rect x="336" y="465" width="22" height="4.4"/><text x="339" y="468">change 3 rules</text></g>
<g id="c16" class="lk"><rect x="369" y="465" width="22" height="4.4"/><text x="372" y="468">Solar mode</text></g>
<g id="c17" class="mq"><rect x="264" y="471" width="65" height="4.4"/><text x="267" y="474">TOPIC - panasonic_heat_pump/main/DHW_Heater_State</text></g>
<g id="c18" class="sw"><rect x="336" y="471" width="22" height="4.4"/><text x="339" y="474">change 3 rules</text></g>
<g id="c19" class="lk"><rect x="369" y="471" width="30" height="4.4"/><text x="372" y="474">DHW heater state</text></g>
<g id="c20" class="mq"><rect x="264" y="478" width="65" height="4.4"/><text x="267" y="481">TOPIC - panasonic_heat_pump/main/Room_Heater_State</text></g>
<g id="c21" class="sw"><rect x="336" y="478" width="22" height="4.4"/><text x="339" y="481">change 3 rules</text></g>
<g id="c22" class="lk"><rect x="369" y="478" width="30" height="4.4"/><text x="372" y="481">Room heater state</text></g>
</svg>
